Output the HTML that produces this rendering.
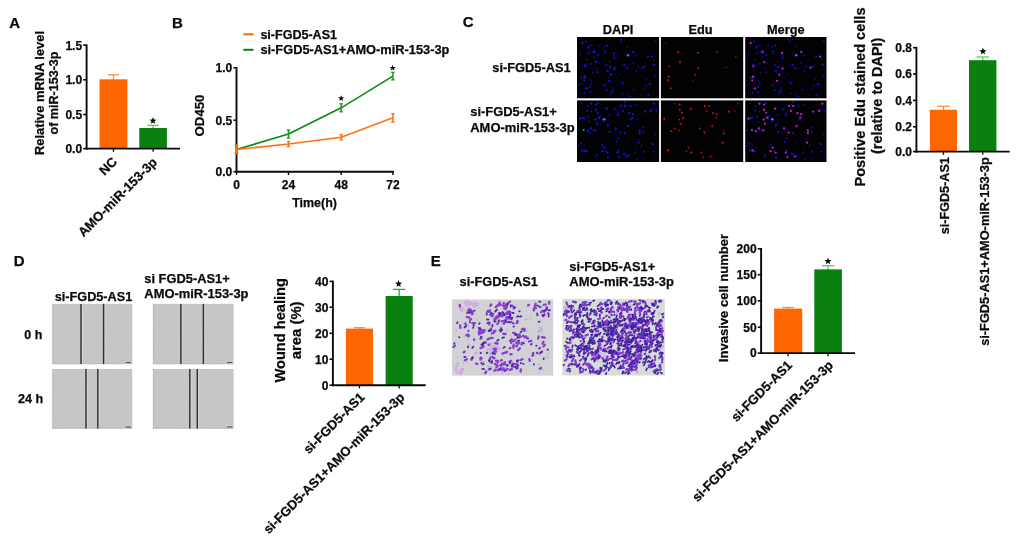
<!DOCTYPE html>
<html><head><meta charset="utf-8"><title>Figure</title>
<style>
html,body{margin:0;padding:0;background:#fff;}
body{width:1020px;height:542px;overflow:hidden;}
svg{display:block;opacity:0.999;filter:blur(0.35px);font-family:"Liberation Sans",sans-serif;font-weight:bold;}
text{stroke:#0a0a0a;stroke-width:0.25px;stroke-linejoin:round;}
</style></head><body>
<svg width="1020" height="542" viewBox="0 0 1020 542">
<rect width="1020" height="542" fill="#ffffff"/>
<text x="9.3" y="27.6" font-size="15" fill="#0a0a0a">A</text>
<text x="172.0" y="27.6" font-size="15" fill="#0a0a0a">B</text>
<text x="462.7" y="27.4" font-size="15" fill="#0a0a0a">C</text>
<text x="13.7" y="265.6" font-size="15" fill="#0a0a0a">D</text>
<text x="430.8" y="265.6" font-size="15" fill="#0a0a0a">E</text>
<line x1="113.45" y1="74.8" x2="113.45" y2="80.3" stroke="#ff8a30" stroke-width="1.25"/>
<line x1="107.95" y1="74.8" x2="118.95" y2="74.8" stroke="#ff8a30" stroke-width="1.25"/>
<rect x="99.50" y="79.30" width="27.90" height="69.30" fill="#ff6600"/>
<line x1="113.45" y1="148.6" x2="113.45" y2="151.79999999999998" stroke="#0a0a0a" stroke-width="1.3"/>
<line x1="153.10000000000002" y1="125.4" x2="153.10000000000002" y2="129.0" stroke="#3fd24a" stroke-width="1.25"/>
<line x1="147.60000000000002" y1="125.4" x2="158.60000000000002" y2="125.4" stroke="#3fd24a" stroke-width="1.25"/>
<rect x="139.30" y="128.00" width="27.60" height="20.60" fill="#0a800e"/>
<line x1="153.10000000000002" y1="148.6" x2="153.10000000000002" y2="151.79999999999998" stroke="#0a0a0a" stroke-width="1.3"/>
<line x1="86.6" y1="44.400000000000006" x2="86.6" y2="149.5" stroke="#0a0a0a" stroke-width="1.9"/>
<line x1="85.69999999999999" y1="148.6" x2="180" y2="148.6" stroke="#0a0a0a" stroke-width="1.9"/>
<line x1="83.19999999999999" y1="45.2" x2="86.6" y2="45.2" stroke="#0a0a0a" stroke-width="1.6"/>
<text x="82.1" y="49.5" font-size="12" text-anchor="end" fill="#0a0a0a">1.5</text>
<line x1="83.19999999999999" y1="79.8" x2="86.6" y2="79.8" stroke="#0a0a0a" stroke-width="1.6"/>
<text x="82.1" y="84.1" font-size="12" text-anchor="end" fill="#0a0a0a">1.0</text>
<line x1="83.19999999999999" y1="114.5" x2="86.6" y2="114.5" stroke="#0a0a0a" stroke-width="1.6"/>
<text x="82.1" y="118.8" font-size="12" text-anchor="end" fill="#0a0a0a">0.5</text>
<line x1="83.19999999999999" y1="148.6" x2="86.6" y2="148.6" stroke="#0a0a0a" stroke-width="1.6"/>
<text x="82.1" y="152.9" font-size="12" text-anchor="end" fill="#0a0a0a">0.0</text>
<polygon points="153.00,117.00 153.94,119.51 156.61,119.63 154.52,121.29 155.23,123.87 153.00,122.40 150.77,123.87 151.48,121.29 149.39,119.63 152.06,119.51" fill="#0a0a0a"/>
<text x="44" y="93.0" font-size="12.7" text-anchor="middle" transform="rotate(-90 44 93.0)" textLength="124" lengthAdjust="spacingAndGlyphs" fill="#0a0a0a">Relative mRNA level</text>
<text x="57.8" y="93.0" font-size="12.7" text-anchor="middle" transform="rotate(-90 57.8 93.0)" textLength="83" lengthAdjust="spacingAndGlyphs" fill="#0a0a0a">of miR-153-3p</text>
<text x="118.0" y="162.6" font-size="13.1" text-anchor="end" transform="rotate(-45 118.0 162.6)" fill="#0a0a0a">NC</text>
<text x="158" y="163" font-size="13.1" text-anchor="end" transform="rotate(-45 158 163)" fill="#0a0a0a">AMO-miR-153-3p</text>
<line x1="243.3" y1="34.3" x2="253.5" y2="34.3" stroke="#ff6600" stroke-width="2"/>
<line x1="243.3" y1="49.8" x2="253.5" y2="49.8" stroke="#0a800e" stroke-width="2"/>
<text x="260.4" y="38.9" font-size="12.5" textLength="76.6" lengthAdjust="spacingAndGlyphs" fill="#0a0a0a">si-FGD5-AS1</text>
<text x="260.4" y="54.4" font-size="12.5" textLength="189" lengthAdjust="spacingAndGlyphs" fill="#0a0a0a">si-FGD5-AS1+AMO-miR-153-3p</text>
<line x1="236.5" y1="67.0" x2="236.5" y2="172.7" stroke="#0a0a0a" stroke-width="1.9"/>
<line x1="235.6" y1="171.8" x2="393.8" y2="171.8" stroke="#0a0a0a" stroke-width="1.9"/>
<line x1="233.3" y1="67.8" x2="236.5" y2="67.8" stroke="#0a0a0a" stroke-width="1.4"/>
<text x="232.2" y="72.1" font-size="12" text-anchor="end" fill="#0a0a0a">1.0</text>
<line x1="233.3" y1="120.2" x2="236.5" y2="120.2" stroke="#0a0a0a" stroke-width="1.4"/>
<text x="232.2" y="124.5" font-size="12" text-anchor="end" fill="#0a0a0a">0.5</text>
<line x1="233.3" y1="171.8" x2="236.5" y2="171.8" stroke="#0a0a0a" stroke-width="1.4"/>
<text x="232.2" y="176.10000000000002" font-size="12" text-anchor="end" fill="#0a0a0a">0.0</text>
<line x1="236.5" y1="171.8" x2="236.5" y2="175" stroke="#0a0a0a" stroke-width="1.4"/>
<text x="236.5" y="188.6" font-size="12" text-anchor="middle" fill="#0a0a0a">0</text>
<line x1="288.5" y1="171.8" x2="288.5" y2="175" stroke="#0a0a0a" stroke-width="1.4"/>
<text x="288.5" y="188.6" font-size="12" text-anchor="middle" fill="#0a0a0a">24</text>
<line x1="341.2" y1="171.8" x2="341.2" y2="175" stroke="#0a0a0a" stroke-width="1.4"/>
<text x="341.2" y="188.6" font-size="12" text-anchor="middle" fill="#0a0a0a">48</text>
<line x1="392.9" y1="171.8" x2="392.9" y2="175" stroke="#0a0a0a" stroke-width="1.4"/>
<text x="392.9" y="188.6" font-size="12" text-anchor="middle" fill="#0a0a0a">72</text>
<polyline points="236.5,149.5 288.5,134 341.2,107.8 392.9,76.1" fill="none" stroke="#088a0c" stroke-width="1.55" stroke-linejoin="round"/>
<line x1="236.5" y1="146.0" x2="236.5" y2="153.0" stroke="#0ea016" stroke-width="1.5"/>
<line x1="234.8" y1="146.0" x2="238.2" y2="146.0" stroke="#0ea016" stroke-width="1.3"/>
<line x1="234.8" y1="153.0" x2="238.2" y2="153.0" stroke="#0ea016" stroke-width="1.3"/>
<line x1="288.5" y1="130" x2="288.5" y2="138" stroke="#0ea016" stroke-width="1.5"/>
<line x1="286.8" y1="130" x2="290.2" y2="130" stroke="#0ea016" stroke-width="1.3"/>
<line x1="286.8" y1="138" x2="290.2" y2="138" stroke="#0ea016" stroke-width="1.3"/>
<line x1="341.2" y1="103.8" x2="341.2" y2="111.8" stroke="#0ea016" stroke-width="1.5"/>
<line x1="339.5" y1="103.8" x2="342.9" y2="103.8" stroke="#0ea016" stroke-width="1.3"/>
<line x1="339.5" y1="111.8" x2="342.9" y2="111.8" stroke="#0ea016" stroke-width="1.3"/>
<line x1="392.9" y1="72.3" x2="392.9" y2="79.89999999999999" stroke="#0ea016" stroke-width="1.5"/>
<line x1="391.2" y1="72.3" x2="394.59999999999997" y2="72.3" stroke="#0ea016" stroke-width="1.3"/>
<line x1="391.2" y1="79.89999999999999" x2="394.59999999999997" y2="79.89999999999999" stroke="#0ea016" stroke-width="1.3"/>
<polyline points="236.5,149.5 288.5,144 341.2,137.2 392.9,117.8" fill="none" stroke="#ff6f10" stroke-width="1.55" stroke-linejoin="round"/>
<line x1="236.5" y1="145.0" x2="236.5" y2="154.0" stroke="#ff6f10" stroke-width="1.5"/>
<line x1="234.8" y1="145.0" x2="238.2" y2="145.0" stroke="#ff6f10" stroke-width="1.3"/>
<line x1="234.8" y1="154.0" x2="238.2" y2="154.0" stroke="#ff6f10" stroke-width="1.3"/>
<line x1="288.5" y1="141.4" x2="288.5" y2="146.6" stroke="#ff6f10" stroke-width="1.5"/>
<line x1="286.8" y1="141.4" x2="290.2" y2="141.4" stroke="#ff6f10" stroke-width="1.3"/>
<line x1="286.8" y1="146.6" x2="290.2" y2="146.6" stroke="#ff6f10" stroke-width="1.3"/>
<line x1="341.2" y1="134.6" x2="341.2" y2="139.79999999999998" stroke="#ff6f10" stroke-width="1.5"/>
<line x1="339.5" y1="134.6" x2="342.9" y2="134.6" stroke="#ff6f10" stroke-width="1.3"/>
<line x1="339.5" y1="139.79999999999998" x2="342.9" y2="139.79999999999998" stroke="#ff6f10" stroke-width="1.3"/>
<line x1="392.9" y1="113.6" x2="392.9" y2="122.0" stroke="#ff6f10" stroke-width="1.5"/>
<line x1="391.2" y1="113.6" x2="394.59999999999997" y2="113.6" stroke="#ff6f10" stroke-width="1.3"/>
<line x1="391.2" y1="122.0" x2="394.59999999999997" y2="122.0" stroke="#ff6f10" stroke-width="1.3"/>
<polygon points="341.20,95.20 341.99,97.31 344.24,97.41 342.48,98.82 343.08,100.99 341.20,99.74 339.32,100.99 339.92,98.82 338.16,97.41 340.41,97.31" fill="#0a0a0a"/>
<polygon points="392.70,64.80 393.49,66.91 395.74,67.01 393.98,68.42 394.58,70.59 392.70,69.34 390.82,70.59 391.42,68.42 389.66,67.01 391.91,66.91" fill="#0a0a0a"/>
<text x="314.6" y="207.2" font-size="12.5" text-anchor="middle" textLength="44.8" lengthAdjust="spacingAndGlyphs" fill="#0a0a0a">Time(h)</text>
<text x="204" y="115.5" font-size="13" text-anchor="middle" transform="rotate(-90 204 115.5)" textLength="42" lengthAdjust="spacingAndGlyphs" fill="#0a0a0a">OD450</text>
<text x="618" y="33.9" font-size="12.5" text-anchor="middle" textLength="30.6" lengthAdjust="spacingAndGlyphs" fill="#0a0a0a">DAPI</text>
<text x="700.5" y="33.9" font-size="12.5" text-anchor="middle" textLength="24" lengthAdjust="spacingAndGlyphs" fill="#0a0a0a">Edu</text>
<text x="785.8" y="33.9" font-size="12.5" text-anchor="middle" textLength="37.7" lengthAdjust="spacingAndGlyphs" fill="#0a0a0a">Merge</text>
<text x="570.6" y="72.3" font-size="13" text-anchor="end" textLength="78.3" lengthAdjust="spacingAndGlyphs" fill="#0a0a0a">si-FGD5-AS1</text>
<text x="470.2" y="116.2" font-size="13" textLength="86.6" lengthAdjust="spacingAndGlyphs" fill="#0a0a0a">si-FGD5-AS1+</text>
<text x="470.2" y="131.9" font-size="13" textLength="104.6" lengthAdjust="spacingAndGlyphs" fill="#0a0a0a">AMO-miR-153-3p</text>
<defs><filter id="bl" x="-5%" y="-5%" width="110%" height="110%"><feGaussianBlur stdDeviation="0.45"/></filter></defs>
<rect x="577.00" y="37.00" width="82.10" height="61.30" fill="#020205"/>
<g fill="#1216e6" filter="url(#bl)"><circle cx="604.1" cy="47.3" r="1.03" fill-opacity="0.53"/><circle cx="620.9" cy="59.8" r="0.73" fill-opacity="0.73"/><circle cx="581.5" cy="63.8" r="0.73" fill-opacity="0.54"/><circle cx="612.1" cy="86.7" r="0.76" fill-opacity="0.60"/><circle cx="628.1" cy="93.8" r="0.99" fill-opacity="0.68"/><circle cx="655.7" cy="41.2" r="1.13" fill-opacity="0.63"/><circle cx="589.9" cy="45.4" r="0.85" fill-opacity="0.87"/><circle cx="592.8" cy="72.4" r="1.02" fill-opacity="0.67"/><circle cx="621.8" cy="42.2" r="0.73" fill-opacity="0.59"/><circle cx="632.3" cy="63.4" r="0.86" fill-opacity="0.76"/><circle cx="614.3" cy="56.0" r="1.10" fill-opacity="0.81"/><circle cx="597.8" cy="72.0" r="0.96" fill-opacity="0.89"/><circle cx="636.2" cy="55.3" r="1.19" fill-opacity="0.55"/><circle cx="611.6" cy="82.6" r="0.78" fill-opacity="0.72"/><circle cx="581.6" cy="77.5" r="1.08" fill-opacity="0.76"/><circle cx="647.8" cy="56.8" r="1.05" fill-opacity="0.77"/><circle cx="624.4" cy="65.1" r="1.12" fill-opacity="0.93"/><circle cx="616.0" cy="77.2" r="0.73" fill-opacity="0.82"/><circle cx="629.7" cy="96.4" r="1.11" fill-opacity="0.63"/><circle cx="609.0" cy="77.5" r="0.71" fill-opacity="0.71"/><circle cx="591.8" cy="45.3" r="0.73" fill-opacity="0.85"/><circle cx="588.7" cy="52.9" r="0.90" fill-opacity="0.89"/><circle cx="584.9" cy="64.7" r="0.97" fill-opacity="0.90"/><circle cx="643.3" cy="88.9" r="0.84" fill-opacity="0.69"/><circle cx="606.9" cy="90.0" r="1.18" fill-opacity="0.57"/><circle cx="592.4" cy="52.0" r="0.82" fill-opacity="0.72"/><circle cx="625.1" cy="53.8" r="0.70" fill-opacity="0.69"/><circle cx="607.7" cy="71.5" r="1.18" fill-opacity="0.81"/><circle cx="619.3" cy="74.5" r="1.04" fill-opacity="0.52"/><circle cx="649.7" cy="84.0" r="1.14" fill-opacity="0.86"/><circle cx="609.5" cy="61.8" r="0.75" fill-opacity="0.79"/><circle cx="583.4" cy="42.4" r="0.80" fill-opacity="0.57"/><circle cx="605.4" cy="41.6" r="0.70" fill-opacity="0.57"/><circle cx="586.5" cy="59.7" r="0.71" fill-opacity="0.89"/><circle cx="627.1" cy="47.2" r="0.83" fill-opacity="0.66"/><circle cx="607.3" cy="45.7" r="1.12" fill-opacity="0.95"/><circle cx="615.4" cy="66.7" r="0.74" fill-opacity="0.55"/><circle cx="605.6" cy="53.9" r="1.11" fill-opacity="0.57"/><circle cx="580.3" cy="93.9" r="0.96" fill-opacity="0.57"/><circle cx="621.5" cy="40.1" r="0.96" fill-opacity="0.94"/><circle cx="646.8" cy="79.1" r="0.83" fill-opacity="0.67"/><circle cx="591.7" cy="83.5" r="0.97" fill-opacity="0.85"/><circle cx="604.6" cy="51.5" r="1.11" fill-opacity="0.94"/><circle cx="645.9" cy="85.5" r="1.11" fill-opacity="0.83"/><circle cx="596.4" cy="68.7" r="0.88" fill-opacity="0.51"/><circle cx="580.7" cy="54.8" r="0.83" fill-opacity="0.81"/><circle cx="654.2" cy="64.6" r="1.17" fill-opacity="0.94"/><circle cx="654.0" cy="59.8" r="0.81" fill-opacity="0.60"/><circle cx="594.1" cy="50.4" r="1.01" fill-opacity="0.91"/><circle cx="645.0" cy="66.5" r="1.03" fill-opacity="0.86"/><circle cx="585.2" cy="77.0" r="1.15" fill-opacity="0.85"/><circle cx="637.8" cy="66.4" r="0.79" fill-opacity="0.86"/><circle cx="604.8" cy="85.2" r="1.19" fill-opacity="0.68"/><circle cx="610.2" cy="93.7" r="1.06" fill-opacity="0.58"/><circle cx="588.5" cy="47.3" r="1.15" fill-opacity="0.86"/><circle cx="590.1" cy="86.7" r="1.19" fill-opacity="0.80"/><circle cx="606.2" cy="70.5" r="0.77" fill-opacity="0.51"/><circle cx="655.3" cy="76.4" r="0.96" fill-opacity="0.92"/><circle cx="612.8" cy="89.3" r="1.11" fill-opacity="0.59"/><circle cx="598.4" cy="55.6" r="0.82" fill-opacity="0.76"/><circle cx="599.0" cy="62.9" r="0.77" fill-opacity="0.91"/><circle cx="606.5" cy="65.2" r="0.99" fill-opacity="0.91"/><circle cx="611.8" cy="92.0" r="0.95" fill-opacity="0.74"/><circle cx="619.9" cy="39.6" r="0.92" fill-opacity="0.58"/><circle cx="578.8" cy="85.1" r="0.79" fill-opacity="0.71"/><circle cx="635.9" cy="70.9" r="0.86" fill-opacity="0.73"/><circle cx="622.4" cy="84.2" r="0.75" fill-opacity="0.75"/><circle cx="598.2" cy="54.6" r="1.09" fill-opacity="0.73"/><circle cx="622.9" cy="82.8" r="1.16" fill-opacity="0.70"/><circle cx="627.0" cy="68.0" r="0.96" fill-opacity="0.81"/><circle cx="614.3" cy="69.6" r="0.94" fill-opacity="0.92"/><circle cx="633.8" cy="89.6" r="1.17" fill-opacity="0.62"/><circle cx="622.8" cy="93.5" r="1.12" fill-opacity="0.56"/><circle cx="588.1" cy="64.3" r="0.74" fill-opacity="0.61"/><circle cx="584.3" cy="77.5" r="1.09" fill-opacity="0.90"/><circle cx="590.7" cy="80.2" r="1.03" fill-opacity="0.56"/><circle cx="648.3" cy="94.9" r="0.81" fill-opacity="0.93"/><circle cx="610.0" cy="66.9" r="1.19" fill-opacity="0.87"/><circle cx="591.3" cy="63.7" r="0.96" fill-opacity="0.65"/><circle cx="594.0" cy="57.1" r="1.06" fill-opacity="0.51"/><circle cx="622.3" cy="64.2" r="0.71" fill-opacity="0.65"/><circle cx="627.9" cy="68.4" r="0.73" fill-opacity="0.94"/><circle cx="640.9" cy="95.1" r="0.75" fill-opacity="0.62"/><circle cx="581.6" cy="83.9" r="0.84" fill-opacity="0.56"/><circle cx="611.9" cy="91.6" r="1.11" fill-opacity="0.62"/><circle cx="590.3" cy="92.1" r="0.99" fill-opacity="0.82"/><circle cx="585.6" cy="41.9" r="1.04" fill-opacity="0.69"/><circle cx="584.2" cy="93.2" r="1.02" fill-opacity="0.86"/><circle cx="585.1" cy="88.4" r="0.73" fill-opacity="0.89"/><circle cx="614.4" cy="58.3" r="0.98" fill-opacity="0.92"/><circle cx="599.7" cy="46.0" r="0.96" fill-opacity="0.61"/><circle cx="587.2" cy="47.9" r="0.73" fill-opacity="0.59"/><circle cx="582.4" cy="43.0" r="1.1"/><circle cx="594.4" cy="52.2" r="1.1"/><circle cx="613.9" cy="53.0" r="1.1"/><circle cx="633.1" cy="52.0" r="1.1"/><circle cx="651.9" cy="56.7" r="1.1"/><circle cx="596.1" cy="62.2" r="1.1"/><circle cx="585.3" cy="66.3" r="1.1"/><circle cx="614.4" cy="68.3" r="1.1"/><circle cx="642.4" cy="67.5" r="1.1"/><circle cx="611.1" cy="74.7" r="1.1"/><circle cx="584.9" cy="76.7" r="1.1"/><circle cx="584.1" cy="80.3" r="1.1"/><circle cx="608.9" cy="80.8" r="1.1"/><circle cx="586.9" cy="88.3" r="1.1"/></g>
<g fill="#3f6cff" filter="url(#bl)"><circle cx="628.0" cy="55.3" r="1.30"/></g>
<rect x="660.90" y="37.00" width="82.30" height="61.30" fill="#020205"/>
<g fill="#cc1410" filter="url(#bl)"><circle cx="666.3" cy="43.0" r="0.85" fill-opacity="0.6"/><circle cx="678.3" cy="52.2" r="1.05" fill-opacity="1.0"/><circle cx="697.8" cy="53.0" r="1.05" fill-opacity="1.0"/><circle cx="717.0" cy="52.0" r="0.85" fill-opacity="1.0"/><circle cx="735.8" cy="56.7" r="1.05" fill-opacity="0.6"/><circle cx="680.0" cy="62.2" r="1.05" fill-opacity="1.0"/><circle cx="669.2" cy="66.3" r="0.85" fill-opacity="1.0"/><circle cx="698.3" cy="68.3" r="1.05" fill-opacity="1.0"/><circle cx="726.3" cy="67.5" r="1.05" fill-opacity="0.6"/><circle cx="695.0" cy="74.7" r="0.85" fill-opacity="1.0"/><circle cx="668.8" cy="76.7" r="1.05" fill-opacity="1.0"/><circle cx="668.0" cy="80.3" r="1.05" fill-opacity="1.0"/><circle cx="692.8" cy="80.8" r="0.85" fill-opacity="0.6"/><circle cx="670.8" cy="88.3" r="1.05" fill-opacity="1.0"/></g>
<rect x="745.20" y="37.00" width="81.30" height="61.30" fill="#020205"/>
<g fill="#1216e6" filter="url(#bl)"><circle cx="772.3" cy="47.3" r="1.03" fill-opacity="0.53"/><circle cx="789.1" cy="59.8" r="0.73" fill-opacity="0.73"/><circle cx="749.7" cy="63.8" r="0.73" fill-opacity="0.54"/><circle cx="780.3" cy="86.7" r="0.76" fill-opacity="0.60"/><circle cx="796.3" cy="93.8" r="0.99" fill-opacity="0.68"/><circle cx="823.9" cy="41.2" r="1.13" fill-opacity="0.63"/><circle cx="758.1" cy="45.4" r="0.85" fill-opacity="0.87"/><circle cx="761.0" cy="72.4" r="1.02" fill-opacity="0.67"/><circle cx="790.0" cy="42.2" r="0.73" fill-opacity="0.59"/><circle cx="800.5" cy="63.4" r="0.86" fill-opacity="0.76"/><circle cx="782.5" cy="56.0" r="1.10" fill-opacity="0.81"/><circle cx="766.0" cy="72.0" r="0.96" fill-opacity="0.89"/><circle cx="804.4" cy="55.3" r="1.19" fill-opacity="0.55"/><circle cx="779.8" cy="82.6" r="0.78" fill-opacity="0.72"/><circle cx="749.8" cy="77.5" r="1.08" fill-opacity="0.76"/><circle cx="816.0" cy="56.8" r="1.05" fill-opacity="0.77"/><circle cx="792.6" cy="65.1" r="1.12" fill-opacity="0.93"/><circle cx="784.2" cy="77.2" r="0.73" fill-opacity="0.82"/><circle cx="797.9" cy="96.4" r="1.11" fill-opacity="0.63"/><circle cx="777.2" cy="77.5" r="0.71" fill-opacity="0.71"/><circle cx="760.0" cy="45.3" r="0.73" fill-opacity="0.85"/><circle cx="756.9" cy="52.9" r="0.90" fill-opacity="0.89"/><circle cx="753.1" cy="64.7" r="0.97" fill-opacity="0.90"/><circle cx="811.5" cy="88.9" r="0.84" fill-opacity="0.69"/><circle cx="775.1" cy="90.0" r="1.18" fill-opacity="0.57"/><circle cx="760.6" cy="52.0" r="0.82" fill-opacity="0.72"/><circle cx="793.3" cy="53.8" r="0.70" fill-opacity="0.69"/><circle cx="775.9" cy="71.5" r="1.18" fill-opacity="0.81"/><circle cx="787.5" cy="74.5" r="1.04" fill-opacity="0.52"/><circle cx="817.9" cy="84.0" r="1.14" fill-opacity="0.86"/><circle cx="777.7" cy="61.8" r="0.75" fill-opacity="0.79"/><circle cx="751.6" cy="42.4" r="0.80" fill-opacity="0.57"/><circle cx="773.6" cy="41.6" r="0.70" fill-opacity="0.57"/><circle cx="754.7" cy="59.7" r="0.71" fill-opacity="0.89"/><circle cx="795.3" cy="47.2" r="0.83" fill-opacity="0.66"/><circle cx="775.5" cy="45.7" r="1.12" fill-opacity="0.95"/><circle cx="783.6" cy="66.7" r="0.74" fill-opacity="0.55"/><circle cx="773.8" cy="53.9" r="1.11" fill-opacity="0.57"/><circle cx="748.5" cy="93.9" r="0.96" fill-opacity="0.57"/><circle cx="789.7" cy="40.1" r="0.96" fill-opacity="0.94"/><circle cx="815.0" cy="79.1" r="0.83" fill-opacity="0.67"/><circle cx="759.9" cy="83.5" r="0.97" fill-opacity="0.85"/><circle cx="772.8" cy="51.5" r="1.11" fill-opacity="0.94"/><circle cx="814.1" cy="85.5" r="1.11" fill-opacity="0.83"/><circle cx="764.6" cy="68.7" r="0.88" fill-opacity="0.51"/><circle cx="748.9" cy="54.8" r="0.83" fill-opacity="0.81"/><circle cx="822.4" cy="64.6" r="1.17" fill-opacity="0.94"/><circle cx="822.2" cy="59.8" r="0.81" fill-opacity="0.60"/><circle cx="762.3" cy="50.4" r="1.01" fill-opacity="0.91"/><circle cx="813.2" cy="66.5" r="1.03" fill-opacity="0.86"/><circle cx="753.4" cy="77.0" r="1.15" fill-opacity="0.85"/><circle cx="806.0" cy="66.4" r="0.79" fill-opacity="0.86"/><circle cx="773.0" cy="85.2" r="1.19" fill-opacity="0.68"/><circle cx="778.4" cy="93.7" r="1.06" fill-opacity="0.58"/><circle cx="756.7" cy="47.3" r="1.15" fill-opacity="0.86"/><circle cx="758.3" cy="86.7" r="1.19" fill-opacity="0.80"/><circle cx="774.4" cy="70.5" r="0.77" fill-opacity="0.51"/><circle cx="823.5" cy="76.4" r="0.96" fill-opacity="0.92"/><circle cx="781.0" cy="89.3" r="1.11" fill-opacity="0.59"/><circle cx="766.6" cy="55.6" r="0.82" fill-opacity="0.76"/><circle cx="767.2" cy="62.9" r="0.77" fill-opacity="0.91"/><circle cx="774.7" cy="65.2" r="0.99" fill-opacity="0.91"/><circle cx="780.0" cy="92.0" r="0.95" fill-opacity="0.74"/><circle cx="788.1" cy="39.6" r="0.92" fill-opacity="0.58"/><circle cx="747.0" cy="85.1" r="0.79" fill-opacity="0.71"/><circle cx="804.1" cy="70.9" r="0.86" fill-opacity="0.73"/><circle cx="790.6" cy="84.2" r="0.75" fill-opacity="0.75"/><circle cx="766.4" cy="54.6" r="1.09" fill-opacity="0.73"/><circle cx="791.1" cy="82.8" r="1.16" fill-opacity="0.70"/><circle cx="795.2" cy="68.0" r="0.96" fill-opacity="0.81"/><circle cx="782.5" cy="69.6" r="0.94" fill-opacity="0.92"/><circle cx="802.0" cy="89.6" r="1.17" fill-opacity="0.62"/><circle cx="791.0" cy="93.5" r="1.12" fill-opacity="0.56"/><circle cx="756.3" cy="64.3" r="0.74" fill-opacity="0.61"/><circle cx="752.5" cy="77.5" r="1.09" fill-opacity="0.90"/><circle cx="758.9" cy="80.2" r="1.03" fill-opacity="0.56"/><circle cx="816.5" cy="94.9" r="0.81" fill-opacity="0.93"/><circle cx="778.2" cy="66.9" r="1.19" fill-opacity="0.87"/><circle cx="759.5" cy="63.7" r="0.96" fill-opacity="0.65"/><circle cx="762.2" cy="57.1" r="1.06" fill-opacity="0.51"/><circle cx="790.5" cy="64.2" r="0.71" fill-opacity="0.65"/><circle cx="796.1" cy="68.4" r="0.73" fill-opacity="0.94"/><circle cx="809.1" cy="95.1" r="0.75" fill-opacity="0.62"/><circle cx="749.8" cy="83.9" r="0.84" fill-opacity="0.56"/><circle cx="780.1" cy="91.6" r="1.11" fill-opacity="0.62"/><circle cx="758.5" cy="92.1" r="0.99" fill-opacity="0.82"/><circle cx="753.8" cy="41.9" r="1.04" fill-opacity="0.69"/><circle cx="752.4" cy="93.2" r="1.02" fill-opacity="0.86"/><circle cx="753.3" cy="88.4" r="0.73" fill-opacity="0.89"/><circle cx="782.6" cy="58.3" r="0.98" fill-opacity="0.92"/><circle cx="767.9" cy="46.0" r="0.96" fill-opacity="0.61"/><circle cx="755.4" cy="47.9" r="0.73" fill-opacity="0.59"/></g>
<g fill="#3f6cff" filter="url(#bl)"><circle cx="796.2" cy="55.3" r="1.30"/></g>
<g fill="#c31cc0" filter="url(#bl)"><circle cx="750.6" cy="43.0" r="1.15"/><circle cx="762.6" cy="52.2" r="1.15"/><circle cx="782.1" cy="53.0" r="1.15"/><circle cx="801.3" cy="52.0" r="1.15"/><circle cx="820.1" cy="56.7" r="1.15"/><circle cx="764.3" cy="62.2" r="1.15"/><circle cx="753.5" cy="66.3" r="1.15"/><circle cx="782.6" cy="68.3" r="1.15"/><circle cx="810.6" cy="67.5" r="1.15"/><circle cx="779.3" cy="74.7" r="1.15"/><circle cx="753.1" cy="76.7" r="1.15"/><circle cx="752.3" cy="80.3" r="1.15"/><circle cx="777.1" cy="80.8" r="1.15"/><circle cx="755.1" cy="88.3" r="1.15"/></g>
<rect x="577.00" y="100.40" width="82.10" height="61.60" fill="#020205"/>
<g fill="#1216e6" filter="url(#bl)"><circle cx="603.2" cy="119.8" r="1.08" fill-opacity="0.63"/><circle cx="618.1" cy="112.3" r="0.87" fill-opacity="0.51"/><circle cx="598.3" cy="102.8" r="1.07" fill-opacity="0.75"/><circle cx="593.5" cy="129.7" r="1.17" fill-opacity="0.55"/><circle cx="643.3" cy="127.2" r="0.95" fill-opacity="0.88"/><circle cx="609.6" cy="131.6" r="1.04" fill-opacity="0.94"/><circle cx="605.6" cy="150.7" r="1.05" fill-opacity="0.79"/><circle cx="610.5" cy="122.3" r="0.73" fill-opacity="0.56"/><circle cx="584.1" cy="145.3" r="0.83" fill-opacity="0.57"/><circle cx="585.2" cy="151.2" r="1.14" fill-opacity="0.80"/><circle cx="600.8" cy="116.1" r="0.85" fill-opacity="0.71"/><circle cx="591.0" cy="128.0" r="0.83" fill-opacity="0.93"/><circle cx="655.4" cy="134.0" r="0.82" fill-opacity="0.93"/><circle cx="603.0" cy="122.8" r="0.70" fill-opacity="0.67"/><circle cx="616.0" cy="131.4" r="0.80" fill-opacity="0.73"/><circle cx="578.9" cy="117.4" r="0.74" fill-opacity="0.68"/><circle cx="581.8" cy="103.2" r="0.85" fill-opacity="0.60"/><circle cx="624.8" cy="132.9" r="1.08" fill-opacity="0.80"/><circle cx="635.1" cy="153.4" r="0.89" fill-opacity="0.65"/><circle cx="656.4" cy="110.7" r="1.06" fill-opacity="0.79"/><circle cx="582.0" cy="150.8" r="1.15" fill-opacity="0.78"/><circle cx="636.5" cy="149.5" r="0.77" fill-opacity="0.74"/><circle cx="618.4" cy="150.8" r="1.10" fill-opacity="0.87"/><circle cx="624.7" cy="154.2" r="1.04" fill-opacity="0.81"/><circle cx="596.7" cy="103.7" r="0.77" fill-opacity="0.66"/><circle cx="586.8" cy="150.9" r="0.98" fill-opacity="0.78"/><circle cx="628.0" cy="141.8" r="0.94" fill-opacity="0.50"/><circle cx="641.6" cy="145.7" r="0.95" fill-opacity="0.74"/><circle cx="630.7" cy="105.8" r="1.07" fill-opacity="0.61"/><circle cx="584.4" cy="117.5" r="1.06" fill-opacity="0.59"/><circle cx="637.0" cy="159.1" r="0.95" fill-opacity="0.67"/><circle cx="616.4" cy="142.0" r="1.08" fill-opacity="0.78"/><circle cx="629.3" cy="106.4" r="0.77" fill-opacity="0.61"/><circle cx="637.3" cy="119.7" r="0.98" fill-opacity="0.51"/><circle cx="583.3" cy="117.7" r="1.04" fill-opacity="0.81"/><circle cx="631.9" cy="118.9" r="0.96" fill-opacity="0.71"/><circle cx="615.4" cy="108.8" r="1.15" fill-opacity="0.59"/><circle cx="655.9" cy="156.8" r="0.71" fill-opacity="0.71"/><circle cx="643.4" cy="158.6" r="0.92" fill-opacity="0.62"/><circle cx="595.1" cy="157.3" r="0.81" fill-opacity="0.76"/><circle cx="589.7" cy="132.6" r="1.18" fill-opacity="0.56"/><circle cx="643.4" cy="131.7" r="1.14" fill-opacity="0.82"/><circle cx="596.8" cy="154.5" r="0.94" fill-opacity="0.51"/><circle cx="578.8" cy="130.7" r="0.93" fill-opacity="0.64"/><circle cx="589.6" cy="122.1" r="0.86" fill-opacity="0.88"/><circle cx="578.6" cy="145.9" r="1.12" fill-opacity="0.55"/><circle cx="651.8" cy="143.7" r="1.15" fill-opacity="0.63"/><circle cx="607.9" cy="124.9" r="1.20" fill-opacity="0.77"/><circle cx="607.0" cy="127.0" r="0.84" fill-opacity="0.52"/><circle cx="586.5" cy="150.8" r="0.84" fill-opacity="0.92"/><circle cx="598.2" cy="117.5" r="0.96" fill-opacity="0.59"/><circle cx="608.0" cy="157.9" r="1.14" fill-opacity="0.87"/><circle cx="628.4" cy="155.4" r="1.17" fill-opacity="0.75"/><circle cx="635.4" cy="104.8" r="1.07" fill-opacity="0.70"/><circle cx="638.0" cy="139.7" r="0.84" fill-opacity="0.52"/><circle cx="651.8" cy="109.4" r="0.94" fill-opacity="0.65"/><circle cx="602.1" cy="145.2" r="1.19" fill-opacity="0.62"/><circle cx="630.4" cy="119.5" r="0.98" fill-opacity="0.68"/><circle cx="591.7" cy="111.4" r="0.80" fill-opacity="0.91"/><circle cx="617.8" cy="114.8" r="1.15" fill-opacity="0.95"/><circle cx="614.1" cy="110.1" r="0.80" fill-opacity="0.54"/><circle cx="605.5" cy="107.2" r="0.82" fill-opacity="0.62"/><circle cx="623.6" cy="153.9" r="1.07" fill-opacity="0.69"/><circle cx="611.2" cy="132.6" r="0.89" fill-opacity="0.65"/><circle cx="583.4" cy="118.2" r="1.18" fill-opacity="0.56"/><circle cx="618.3" cy="138.8" r="1.13" fill-opacity="0.60"/><circle cx="599.9" cy="116.5" r="0.90" fill-opacity="0.70"/><circle cx="654.0" cy="151.6" r="1.14" fill-opacity="0.51"/><circle cx="581.1" cy="143.5" r="1.15" fill-opacity="0.71"/><circle cx="624.9" cy="101.9" r="0.90" fill-opacity="0.92"/><circle cx="643.8" cy="152.0" r="1.19" fill-opacity="0.61"/><circle cx="587.1" cy="110.9" r="0.96" fill-opacity="0.81"/><circle cx="653.0" cy="144.2" r="1.02" fill-opacity="0.84"/><circle cx="614.7" cy="134.2" r="0.72" fill-opacity="0.85"/><circle cx="596.9" cy="155.8" r="1.02" fill-opacity="0.64"/><circle cx="588.6" cy="116.7" r="1.02" fill-opacity="0.81"/><circle cx="587.4" cy="106.0" r="0.96" fill-opacity="0.76"/><circle cx="609.2" cy="115.0" r="1.00" fill-opacity="0.50"/><circle cx="591.3" cy="103.7" r="1.1"/><circle cx="595.8" cy="104.6" r="1.1"/><circle cx="620.8" cy="105.9" r="1.1"/><circle cx="625.0" cy="105.9" r="1.1"/><circle cx="654.2" cy="103.7" r="1.1"/><circle cx="607.0" cy="108.7" r="1.1"/><circle cx="595.8" cy="109.9" r="1.1"/><circle cx="598.0" cy="112.6" r="1.1"/><circle cx="622.8" cy="110.9" r="1.1"/><circle cx="633.0" cy="114.2" r="1.1"/><circle cx="629.2" cy="113.2" r="1.1"/><circle cx="645.0" cy="111.6" r="1.1"/><circle cx="650.8" cy="110.9" r="1.1"/><circle cx="580.3" cy="118.7" r="1.1"/><circle cx="599.2" cy="117.9" r="1.1"/><circle cx="595.5" cy="119.6" r="1.1"/><circle cx="632.2" cy="117.6" r="1.1"/><circle cx="596.7" cy="123.7" r="1.1"/><circle cx="590.8" cy="128.4" r="1.1"/><circle cx="587.5" cy="131.2" r="1.1"/><circle cx="595.3" cy="130.4" r="1.1"/><circle cx="615.8" cy="128.4" r="1.1"/><circle cx="620.5" cy="132.6" r="1.1"/><circle cx="628.3" cy="126.2" r="1.1"/><circle cx="639.7" cy="130.4" r="1.1"/><circle cx="639.7" cy="133.2" r="1.1"/><circle cx="638.8" cy="142.6" r="1.1"/><circle cx="604.5" cy="147.6" r="1.1"/><circle cx="602.5" cy="151.2" r="1.1"/><circle cx="607.5" cy="152.6" r="1.1"/><circle cx="617.5" cy="152.6" r="1.1"/><circle cx="584.2" cy="150.4" r="1.1"/><circle cx="619.2" cy="157.1" r="1.1"/><circle cx="626.7" cy="156.6" r="1.1"/></g>
<g fill="#3f6cff" filter="url(#bl)"><circle cx="604.2" cy="119.3" r="1.40"/><circle cx="583.7" cy="130.0" r="1.10"/></g>
<rect x="660.90" y="100.40" width="82.30" height="61.60" fill="#020205"/>
<g fill="#cc1410" filter="url(#bl)"><circle cx="675.2" cy="103.7" r="0.85" fill-opacity="0.6"/><circle cx="679.7" cy="104.6" r="1.05" fill-opacity="1.0"/><circle cx="704.7" cy="105.9" r="1.05" fill-opacity="1.0"/><circle cx="708.9" cy="105.9" r="0.85" fill-opacity="1.0"/><circle cx="738.1" cy="103.7" r="1.05" fill-opacity="0.6"/><circle cx="690.9" cy="108.7" r="1.05" fill-opacity="1.0"/><circle cx="679.7" cy="109.9" r="0.85" fill-opacity="1.0"/><circle cx="681.9" cy="112.6" r="1.05" fill-opacity="1.0"/><circle cx="706.7" cy="110.9" r="1.05" fill-opacity="0.6"/><circle cx="716.9" cy="114.2" r="0.85" fill-opacity="1.0"/><circle cx="713.1" cy="113.2" r="1.05" fill-opacity="1.0"/><circle cx="728.9" cy="111.6" r="1.05" fill-opacity="1.0"/><circle cx="734.7" cy="110.9" r="0.85" fill-opacity="0.6"/><circle cx="664.2" cy="118.7" r="1.05" fill-opacity="1.0"/><circle cx="683.1" cy="117.9" r="1.05" fill-opacity="1.0"/><circle cx="679.4" cy="119.6" r="0.85" fill-opacity="1.0"/><circle cx="716.1" cy="117.6" r="1.05" fill-opacity="0.6"/><circle cx="680.6" cy="123.7" r="1.05" fill-opacity="1.0"/><circle cx="674.7" cy="128.4" r="0.85" fill-opacity="1.0"/><circle cx="671.4" cy="131.2" r="1.05" fill-opacity="1.0"/><circle cx="679.2" cy="130.4" r="1.05" fill-opacity="0.6"/><circle cx="699.7" cy="128.4" r="0.85" fill-opacity="1.0"/><circle cx="704.4" cy="132.6" r="1.05" fill-opacity="1.0"/><circle cx="712.2" cy="126.2" r="1.05" fill-opacity="1.0"/><circle cx="723.6" cy="130.4" r="0.85" fill-opacity="0.6"/><circle cx="723.6" cy="133.2" r="1.05" fill-opacity="1.0"/><circle cx="722.7" cy="142.6" r="1.05" fill-opacity="1.0"/><circle cx="688.4" cy="147.6" r="0.85" fill-opacity="1.0"/><circle cx="686.4" cy="151.2" r="1.05" fill-opacity="0.6"/><circle cx="691.4" cy="152.6" r="1.05" fill-opacity="1.0"/><circle cx="701.4" cy="152.6" r="0.85" fill-opacity="1.0"/><circle cx="668.1" cy="150.4" r="1.05" fill-opacity="1.0"/><circle cx="703.1" cy="157.1" r="1.05" fill-opacity="0.6"/><circle cx="710.6" cy="156.6" r="0.85" fill-opacity="1.0"/></g>
<rect x="745.20" y="100.40" width="81.30" height="61.60" fill="#020205"/>
<g fill="#1216e6" filter="url(#bl)"><circle cx="771.4" cy="119.8" r="1.08" fill-opacity="0.63"/><circle cx="786.3" cy="112.3" r="0.87" fill-opacity="0.51"/><circle cx="766.5" cy="102.8" r="1.07" fill-opacity="0.75"/><circle cx="761.7" cy="129.7" r="1.17" fill-opacity="0.55"/><circle cx="811.5" cy="127.2" r="0.95" fill-opacity="0.88"/><circle cx="777.8" cy="131.6" r="1.04" fill-opacity="0.94"/><circle cx="773.8" cy="150.7" r="1.05" fill-opacity="0.79"/><circle cx="778.7" cy="122.3" r="0.73" fill-opacity="0.56"/><circle cx="752.3" cy="145.3" r="0.83" fill-opacity="0.57"/><circle cx="753.4" cy="151.2" r="1.14" fill-opacity="0.80"/><circle cx="769.0" cy="116.1" r="0.85" fill-opacity="0.71"/><circle cx="759.2" cy="128.0" r="0.83" fill-opacity="0.93"/><circle cx="823.6" cy="134.0" r="0.82" fill-opacity="0.93"/><circle cx="771.2" cy="122.8" r="0.70" fill-opacity="0.67"/><circle cx="784.2" cy="131.4" r="0.80" fill-opacity="0.73"/><circle cx="747.1" cy="117.4" r="0.74" fill-opacity="0.68"/><circle cx="750.0" cy="103.2" r="0.85" fill-opacity="0.60"/><circle cx="793.0" cy="132.9" r="1.08" fill-opacity="0.80"/><circle cx="803.3" cy="153.4" r="0.89" fill-opacity="0.65"/><circle cx="824.6" cy="110.7" r="1.06" fill-opacity="0.79"/><circle cx="750.2" cy="150.8" r="1.15" fill-opacity="0.78"/><circle cx="804.7" cy="149.5" r="0.77" fill-opacity="0.74"/><circle cx="786.6" cy="150.8" r="1.10" fill-opacity="0.87"/><circle cx="792.9" cy="154.2" r="1.04" fill-opacity="0.81"/><circle cx="764.9" cy="103.7" r="0.77" fill-opacity="0.66"/><circle cx="755.0" cy="150.9" r="0.98" fill-opacity="0.78"/><circle cx="796.2" cy="141.8" r="0.94" fill-opacity="0.50"/><circle cx="809.8" cy="145.7" r="0.95" fill-opacity="0.74"/><circle cx="798.9" cy="105.8" r="1.07" fill-opacity="0.61"/><circle cx="752.6" cy="117.5" r="1.06" fill-opacity="0.59"/><circle cx="805.2" cy="159.1" r="0.95" fill-opacity="0.67"/><circle cx="784.6" cy="142.0" r="1.08" fill-opacity="0.78"/><circle cx="797.5" cy="106.4" r="0.77" fill-opacity="0.61"/><circle cx="805.5" cy="119.7" r="0.98" fill-opacity="0.51"/><circle cx="751.5" cy="117.7" r="1.04" fill-opacity="0.81"/><circle cx="800.1" cy="118.9" r="0.96" fill-opacity="0.71"/><circle cx="783.6" cy="108.8" r="1.15" fill-opacity="0.59"/><circle cx="824.1" cy="156.8" r="0.71" fill-opacity="0.71"/><circle cx="811.6" cy="158.6" r="0.92" fill-opacity="0.62"/><circle cx="763.3" cy="157.3" r="0.81" fill-opacity="0.76"/><circle cx="757.9" cy="132.6" r="1.18" fill-opacity="0.56"/><circle cx="811.6" cy="131.7" r="1.14" fill-opacity="0.82"/><circle cx="765.0" cy="154.5" r="0.94" fill-opacity="0.51"/><circle cx="747.0" cy="130.7" r="0.93" fill-opacity="0.64"/><circle cx="757.8" cy="122.1" r="0.86" fill-opacity="0.88"/><circle cx="746.8" cy="145.9" r="1.12" fill-opacity="0.55"/><circle cx="820.0" cy="143.7" r="1.15" fill-opacity="0.63"/><circle cx="776.1" cy="124.9" r="1.20" fill-opacity="0.77"/><circle cx="775.2" cy="127.0" r="0.84" fill-opacity="0.52"/><circle cx="754.7" cy="150.8" r="0.84" fill-opacity="0.92"/><circle cx="766.4" cy="117.5" r="0.96" fill-opacity="0.59"/><circle cx="776.2" cy="157.9" r="1.14" fill-opacity="0.87"/><circle cx="796.6" cy="155.4" r="1.17" fill-opacity="0.75"/><circle cx="803.6" cy="104.8" r="1.07" fill-opacity="0.70"/><circle cx="806.2" cy="139.7" r="0.84" fill-opacity="0.52"/><circle cx="820.0" cy="109.4" r="0.94" fill-opacity="0.65"/><circle cx="770.3" cy="145.2" r="1.19" fill-opacity="0.62"/><circle cx="798.6" cy="119.5" r="0.98" fill-opacity="0.68"/><circle cx="759.9" cy="111.4" r="0.80" fill-opacity="0.91"/><circle cx="786.0" cy="114.8" r="1.15" fill-opacity="0.95"/><circle cx="782.3" cy="110.1" r="0.80" fill-opacity="0.54"/><circle cx="773.7" cy="107.2" r="0.82" fill-opacity="0.62"/><circle cx="791.8" cy="153.9" r="1.07" fill-opacity="0.69"/><circle cx="779.4" cy="132.6" r="0.89" fill-opacity="0.65"/><circle cx="751.6" cy="118.2" r="1.18" fill-opacity="0.56"/><circle cx="786.5" cy="138.8" r="1.13" fill-opacity="0.60"/><circle cx="768.1" cy="116.5" r="0.90" fill-opacity="0.70"/><circle cx="822.2" cy="151.6" r="1.14" fill-opacity="0.51"/><circle cx="749.3" cy="143.5" r="1.15" fill-opacity="0.71"/><circle cx="793.1" cy="101.9" r="0.90" fill-opacity="0.92"/><circle cx="812.0" cy="152.0" r="1.19" fill-opacity="0.61"/><circle cx="755.3" cy="110.9" r="0.96" fill-opacity="0.81"/><circle cx="821.2" cy="144.2" r="1.02" fill-opacity="0.84"/><circle cx="782.9" cy="134.2" r="0.72" fill-opacity="0.85"/><circle cx="765.1" cy="155.8" r="1.02" fill-opacity="0.64"/><circle cx="756.8" cy="116.7" r="1.02" fill-opacity="0.81"/><circle cx="755.6" cy="106.0" r="0.96" fill-opacity="0.76"/><circle cx="777.4" cy="115.0" r="1.00" fill-opacity="0.50"/></g>
<g fill="#3f6cff" filter="url(#bl)"><circle cx="772.4" cy="119.3" r="1.40"/><circle cx="751.9" cy="130.0" r="1.10"/></g>
<g fill="#c31cc0" filter="url(#bl)"><circle cx="759.5" cy="103.7" r="1.15"/><circle cx="764.0" cy="104.6" r="1.15"/><circle cx="789.0" cy="105.9" r="1.15"/><circle cx="793.2" cy="105.9" r="1.15"/><circle cx="822.4" cy="103.7" r="1.15"/><circle cx="775.2" cy="108.7" r="1.15"/><circle cx="764.0" cy="109.9" r="1.15"/><circle cx="766.2" cy="112.6" r="1.15"/><circle cx="791.0" cy="110.9" r="1.15"/><circle cx="801.2" cy="114.2" r="1.15"/><circle cx="797.4" cy="113.2" r="1.15"/><circle cx="813.2" cy="111.6" r="1.15"/><circle cx="819.0" cy="110.9" r="1.15"/><circle cx="748.5" cy="118.7" r="1.15"/><circle cx="767.4" cy="117.9" r="1.15"/><circle cx="763.7" cy="119.6" r="1.15"/><circle cx="800.4" cy="117.6" r="1.15"/><circle cx="764.9" cy="123.7" r="1.15"/><circle cx="759.0" cy="128.4" r="1.15"/><circle cx="755.7" cy="131.2" r="1.15"/><circle cx="763.5" cy="130.4" r="1.15"/><circle cx="784.0" cy="128.4" r="1.15"/><circle cx="788.7" cy="132.6" r="1.15"/><circle cx="796.5" cy="126.2" r="1.15"/><circle cx="807.9" cy="130.4" r="1.15"/><circle cx="807.9" cy="133.2" r="1.15"/><circle cx="807.0" cy="142.6" r="1.15"/><circle cx="772.7" cy="147.6" r="1.15"/><circle cx="770.7" cy="151.2" r="1.15"/><circle cx="775.7" cy="152.6" r="1.15"/><circle cx="785.7" cy="152.6" r="1.15"/><circle cx="752.4" cy="150.4" r="1.15"/><circle cx="787.4" cy="157.1" r="1.15"/><circle cx="794.9" cy="156.6" r="1.15"/></g>
<line x1="943.45" y1="106.2" x2="943.45" y2="110.7" stroke="#ff8a30" stroke-width="1.25"/>
<line x1="937.2" y1="106.2" x2="949.7" y2="106.2" stroke="#ff8a30" stroke-width="1.25"/>
<rect x="929.90" y="109.70" width="27.10" height="41.90" fill="#ff6600"/>
<line x1="943.45" y1="151.6" x2="943.45" y2="154.79999999999998" stroke="#0a0a0a" stroke-width="1.3"/>
<line x1="982.7" y1="57" x2="982.7" y2="61.2" stroke="#3fd24a" stroke-width="1.25"/>
<line x1="976.45" y1="57" x2="988.95" y2="57" stroke="#3fd24a" stroke-width="1.25"/>
<rect x="969.00" y="60.20" width="27.40" height="91.40" fill="#0a800e"/>
<line x1="982.7" y1="151.6" x2="982.7" y2="154.79999999999998" stroke="#0a0a0a" stroke-width="1.3"/>
<line x1="916.4" y1="46.900000000000006" x2="916.4" y2="152.5" stroke="#0a0a0a" stroke-width="1.9"/>
<line x1="915.5" y1="151.6" x2="1009.7" y2="151.6" stroke="#0a0a0a" stroke-width="1.9"/>
<line x1="913.0" y1="47.7" x2="916.4" y2="47.7" stroke="#0a0a0a" stroke-width="1.6"/>
<text x="911.9" y="52.0" font-size="12" text-anchor="end" fill="#0a0a0a">0.8</text>
<line x1="913.0" y1="74" x2="916.4" y2="74" stroke="#0a0a0a" stroke-width="1.6"/>
<text x="911.9" y="78.3" font-size="12" text-anchor="end" fill="#0a0a0a">0.6</text>
<line x1="913.0" y1="100.4" x2="916.4" y2="100.4" stroke="#0a0a0a" stroke-width="1.6"/>
<text x="911.9" y="104.7" font-size="12" text-anchor="end" fill="#0a0a0a">0.4</text>
<line x1="913.0" y1="126.8" x2="916.4" y2="126.8" stroke="#0a0a0a" stroke-width="1.6"/>
<text x="911.9" y="131.1" font-size="12" text-anchor="end" fill="#0a0a0a">0.2</text>
<line x1="913.0" y1="151.6" x2="916.4" y2="151.6" stroke="#0a0a0a" stroke-width="1.6"/>
<text x="911.9" y="155.9" font-size="12" text-anchor="end" fill="#0a0a0a">0.0</text>
<polygon points="982.90,47.60 983.84,50.11 986.51,50.23 984.42,51.89 985.13,54.47 982.90,53.00 980.67,54.47 981.38,51.89 979.29,50.23 981.96,50.11" fill="#0a0a0a"/>
<text x="865" y="97" font-size="14.5" text-anchor="middle" transform="rotate(-90 865 97)" textLength="179" lengthAdjust="spacingAndGlyphs" fill="#0a0a0a">Positive Edu stained cells</text>
<text x="882" y="95.8" font-size="14.5" text-anchor="middle" transform="rotate(-90 882 95.8)" textLength="116.4" lengthAdjust="spacingAndGlyphs" fill="#0a0a0a">(relative to DAPI)</text>
<text x="949.2" y="157.2" font-size="12.8" text-anchor="end" transform="rotate(-90 949.2 157.2)" textLength="77" lengthAdjust="spacingAndGlyphs" fill="#0a0a0a">si-FGD5-AS1</text>
<text x="988.7" y="157.2" font-size="12.8" text-anchor="end" transform="rotate(-90 988.7 157.2)" textLength="188.6" lengthAdjust="spacingAndGlyphs" fill="#0a0a0a">si-FGD5-AS1+AMO-miR-153-3p</text>
<text x="54.7" y="301.0" font-size="12.8" textLength="77.6" lengthAdjust="spacingAndGlyphs" fill="#0a0a0a">si-FGD5-AS1</text>
<text x="144.3" y="282.8" font-size="12.8" textLength="85.4" lengthAdjust="spacingAndGlyphs" fill="#0a0a0a">si FGD5-AS1+</text>
<text x="144.3" y="298.2" font-size="12.8" textLength="104.2" lengthAdjust="spacingAndGlyphs" fill="#0a0a0a">AMO-miR-153-3p</text>
<text x="24.3" y="339" font-size="12.5" textLength="18" lengthAdjust="spacingAndGlyphs" fill="#0a0a0a">0 h</text>
<text x="18" y="403.4" font-size="12.5" textLength="25.2" lengthAdjust="spacingAndGlyphs" fill="#0a0a0a">24 h</text>
<defs><filter id="nz" x="0" y="0" width="100%" height="100%"><feTurbulence type="fractalNoise" baseFrequency="0.7" numOctaves="2" seed="4"/><feColorMatrix type="matrix" values="0 0 0 0 0.35  0 0 0 0 0.35  0 0 0 0 0.35  0.55 0 0 0 -0.2"/></filter></defs>
<rect x="52.50" y="303.90" width="79.70" height="60.20" fill="#c8c8c8"/>
<rect x="52.50" y="303.90" width="79.70" height="60.20" fill="#000" filter="url(#nz)" opacity="0.5"/>
<line x1="52.9" y1="303.9" x2="52.9" y2="364.1" stroke="#b4b4b4" stroke-width="0.8"/>
<line x1="52.5" y1="363.70000000000005" x2="132.2" y2="363.70000000000005" stroke="#b8b8b8" stroke-width="0.8"/>
<line x1="82.3" y1="303.9" x2="82.3" y2="364.1" stroke="#d6d6d6" stroke-width="0.9"/>
<line x1="81.0" y1="303.9" x2="81.0" y2="364.1" stroke="#2c2c2c" stroke-width="1.4"/>
<line x1="104.89999999999999" y1="303.9" x2="104.89999999999999" y2="364.1" stroke="#d6d6d6" stroke-width="0.9"/>
<line x1="103.6" y1="303.9" x2="103.6" y2="364.1" stroke="#2c2c2c" stroke-width="1.4"/>
<line x1="125.99999999999999" y1="361.5" x2="130.6" y2="361.5" stroke="#e2e2e2" stroke-width="0.9"/>
<line x1="125.79999999999998" y1="362.40000000000003" x2="130.79999999999998" y2="362.40000000000003" stroke="#4a4a4a" stroke-width="1.1"/>
<rect x="153.00" y="303.90" width="80.60" height="60.20" fill="#c8c8c8"/>
<rect x="153.00" y="303.90" width="80.60" height="60.20" fill="#000" filter="url(#nz)" opacity="0.5"/>
<line x1="153.4" y1="303.9" x2="153.4" y2="364.1" stroke="#b4b4b4" stroke-width="0.8"/>
<line x1="153.0" y1="363.70000000000005" x2="233.6" y2="363.70000000000005" stroke="#b8b8b8" stroke-width="0.8"/>
<line x1="182.20000000000002" y1="303.9" x2="182.20000000000002" y2="364.1" stroke="#d6d6d6" stroke-width="0.9"/>
<line x1="180.9" y1="303.9" x2="180.9" y2="364.1" stroke="#2c2c2c" stroke-width="1.4"/>
<line x1="204.70000000000002" y1="303.9" x2="204.70000000000002" y2="364.1" stroke="#d6d6d6" stroke-width="0.9"/>
<line x1="203.4" y1="303.9" x2="203.4" y2="364.1" stroke="#2c2c2c" stroke-width="1.4"/>
<line x1="227.4" y1="361.5" x2="232.0" y2="361.5" stroke="#e2e2e2" stroke-width="0.9"/>
<line x1="227.2" y1="362.40000000000003" x2="232.2" y2="362.40000000000003" stroke="#4a4a4a" stroke-width="1.1"/>
<rect x="52.50" y="369.00" width="79.70" height="59.60" fill="#c8c8c8"/>
<rect x="52.50" y="369.00" width="79.70" height="59.60" fill="#000" filter="url(#nz)" opacity="0.5"/>
<line x1="52.9" y1="369.0" x2="52.9" y2="428.6" stroke="#b4b4b4" stroke-width="0.8"/>
<line x1="52.5" y1="428.20000000000005" x2="132.2" y2="428.20000000000005" stroke="#b8b8b8" stroke-width="0.8"/>
<line x1="87.3" y1="369.0" x2="87.3" y2="428.6" stroke="#d6d6d6" stroke-width="0.9"/>
<line x1="86.0" y1="369.0" x2="86.0" y2="428.6" stroke="#2c2c2c" stroke-width="1.4"/>
<line x1="99.1" y1="369.0" x2="99.1" y2="428.6" stroke="#d6d6d6" stroke-width="0.9"/>
<line x1="97.8" y1="369.0" x2="97.8" y2="428.6" stroke="#2c2c2c" stroke-width="1.4"/>
<line x1="125.99999999999999" y1="426.0" x2="130.6" y2="426.0" stroke="#e2e2e2" stroke-width="0.9"/>
<line x1="125.79999999999998" y1="426.90000000000003" x2="130.79999999999998" y2="426.90000000000003" stroke="#4a4a4a" stroke-width="1.1"/>
<rect x="153.00" y="369.00" width="80.60" height="59.60" fill="#c8c8c8"/>
<rect x="153.00" y="369.00" width="80.60" height="59.60" fill="#000" filter="url(#nz)" opacity="0.5"/>
<line x1="153.4" y1="369.0" x2="153.4" y2="428.6" stroke="#b4b4b4" stroke-width="0.8"/>
<line x1="153.0" y1="428.20000000000005" x2="233.6" y2="428.20000000000005" stroke="#b8b8b8" stroke-width="0.8"/>
<line x1="191.10000000000002" y1="369.0" x2="191.10000000000002" y2="428.6" stroke="#d6d6d6" stroke-width="0.9"/>
<line x1="189.8" y1="369.0" x2="189.8" y2="428.6" stroke="#2c2c2c" stroke-width="1.4"/>
<line x1="198.60000000000002" y1="369.0" x2="198.60000000000002" y2="428.6" stroke="#d6d6d6" stroke-width="0.9"/>
<line x1="197.3" y1="369.0" x2="197.3" y2="428.6" stroke="#2c2c2c" stroke-width="1.4"/>
<line x1="227.4" y1="426.0" x2="232.0" y2="426.0" stroke="#e2e2e2" stroke-width="0.9"/>
<line x1="227.2" y1="426.90000000000003" x2="232.2" y2="426.90000000000003" stroke="#4a4a4a" stroke-width="1.1"/>
<line x1="359.45" y1="327.7" x2="359.45" y2="329.6" stroke="#ff8a30" stroke-width="1.25"/>
<line x1="353.7" y1="327.7" x2="365.2" y2="327.7" stroke="#ff8a30" stroke-width="1.25"/>
<rect x="345.90" y="328.60" width="27.10" height="56.60" fill="#ff6600"/>
<line x1="359.45" y1="385.2" x2="359.45" y2="388.4" stroke="#0a0a0a" stroke-width="1.3"/>
<line x1="399.15" y1="289.4" x2="399.15" y2="297" stroke="#22a82a" stroke-width="1.25"/>
<line x1="392.84999999999997" y1="289.4" x2="405.45" y2="289.4" stroke="#22a82a" stroke-width="1.25"/>
<rect x="385.60" y="296.00" width="27.10" height="89.20" fill="#0a800e"/>
<line x1="399.15" y1="385.2" x2="399.15" y2="388.4" stroke="#0a0a0a" stroke-width="1.3"/>
<line x1="332.9" y1="280.59999999999997" x2="332.9" y2="386.09999999999997" stroke="#0a0a0a" stroke-width="1.9"/>
<line x1="332.0" y1="385.2" x2="425.7" y2="385.2" stroke="#0a0a0a" stroke-width="1.9"/>
<line x1="329.5" y1="281.4" x2="332.9" y2="281.4" stroke="#0a0a0a" stroke-width="1.6"/>
<text x="328.4" y="285.7" font-size="12" text-anchor="end" fill="#0a0a0a">40</text>
<line x1="329.5" y1="307.2" x2="332.9" y2="307.2" stroke="#0a0a0a" stroke-width="1.6"/>
<text x="328.4" y="311.5" font-size="12" text-anchor="end" fill="#0a0a0a">30</text>
<line x1="329.5" y1="333.3" x2="332.9" y2="333.3" stroke="#0a0a0a" stroke-width="1.6"/>
<text x="328.4" y="337.6" font-size="12" text-anchor="end" fill="#0a0a0a">20</text>
<line x1="329.5" y1="359.2" x2="332.9" y2="359.2" stroke="#0a0a0a" stroke-width="1.6"/>
<text x="328.4" y="363.5" font-size="12" text-anchor="end" fill="#0a0a0a">10</text>
<line x1="329.5" y1="385.2" x2="332.9" y2="385.2" stroke="#0a0a0a" stroke-width="1.6"/>
<text x="328.4" y="389.5" font-size="12" text-anchor="end" fill="#0a0a0a">0</text>
<polygon points="398.60,280.00 399.54,282.51 402.21,282.63 400.12,284.29 400.83,286.87 398.60,285.40 396.37,286.87 397.08,284.29 394.99,282.63 397.66,282.51" fill="#0a0a0a"/>
<text x="285.4" y="330.3" font-size="14.5" text-anchor="middle" transform="rotate(-90 285.4 330.3)" textLength="104.6" lengthAdjust="spacingAndGlyphs" fill="#0a0a0a">Wound healing</text>
<text x="300.8" y="330.3" font-size="14.5" text-anchor="middle" transform="rotate(-90 300.8 330.3)" textLength="57.7" lengthAdjust="spacingAndGlyphs" fill="#0a0a0a">area (%)</text>
<text x="365.3" y="398" font-size="13.1" text-anchor="end" transform="rotate(-45 365.3 398)" fill="#0a0a0a">si-FGD5-AS1</text>
<text x="405.3" y="398" font-size="13.1" text-anchor="end" transform="rotate(-45 405.3 398)" fill="#0a0a0a">si-FGD5-AS1+AMO-miR-153-3p</text>
<text x="459.6" y="285.6" font-size="13" textLength="78.3" lengthAdjust="spacingAndGlyphs" fill="#0a0a0a">si-FGD5-AS1</text>
<text x="569.3" y="270.6" font-size="13" textLength="85.9" lengthAdjust="spacingAndGlyphs" fill="#0a0a0a">si-FGD5-AS1+</text>
<text x="569.3" y="285.6" font-size="13" textLength="104.7" lengthAdjust="spacingAndGlyphs" fill="#0a0a0a">AMO-miR-153-3p</text>
<rect x="451.90" y="299.40" width="101.30" height="76.20" fill="#d1d1d6"/>
<path d="M488.4 349.2L486.8 350.3M458.8 371.9L457.4 372.9M466.8 301.3L465.0 303.3M471.6 302.8L470.1 303.3M493.2 350.9L494.7 352.2M468.2 301.2L466.0 301.2M536.2 352.6L537.9 354.1M467.3 302.7L468.3 304.1M471.1 303.6L469.1 304.2M491.9 349.0L490.8 350.7M476.3 303.1L474.8 305.4M460.7 369.3L461.6 371.7M462.6 369.1L461.4 372.9M474.3 303.2L472.6 304.6M506.0 368.1L505.2 369.9M501.8 369.2L502.0 373.1M499.8 348.6L496.6 350.6M492.0 346.0L493.7 346.2M477.0 352.5L475.1 353.7M487.9 366.1L491.6 367.6M466.9 310.5L468.9 310.6M497.1 347.8L496.9 350.0M460.6 308.8L461.9 311.1M477.9 303.6L476.2 305.6M477.2 305.2L474.0 306.2M458.4 363.6L457.1 365.6M541.7 330.5L538.6 331.9M495.6 348.1L497.2 348.6M518.2 362.7L516.6 364.5M491.0 347.5L490.9 350.3M466.4 302.6L466.4 305.9M497.6 347.5L496.4 349.4M456.1 366.3L456.1 370.2M496.4 345.5L494.3 347.0M540.3 327.5L541.9 329.9M489.9 353.0L491.5 353.3" stroke="#c9a6e0" stroke-width="2.6" stroke-linecap="round" fill="none" stroke-opacity="0.75"/>
<path d="M534.4 307.8L535.9 308.2M479.2 334.4L480.9 332.9M497.5 305.3L498.0 304.9M513.1 333.0L514.8 332.9M541.1 312.2L542.7 310.7M539.8 353.3L541.2 352.4M516.5 364.9L516.9 364.0M470.2 320.0L470.9 319.2M482.6 332.9L483.9 331.6M501.0 316.0L503.0 315.9M474.1 340.1L474.1 339.5M501.0 360.6L501.8 360.1M539.3 348.6L539.9 347.7M506.9 365.5L507.5 365.6M491.9 315.6L493.2 313.9M502.5 314.9L503.8 313.8M460.4 327.8L460.1 325.4M468.6 310.9L469.3 308.9M483.5 346.7L482.8 344.9M495.9 351.9L494.6 349.9M513.2 346.0L513.9 344.5M483.3 343.4L484.5 342.3M528.1 305.4L528.9 305.0M497.5 370.2L499.3 369.0M504.2 308.5L505.6 308.2M489.0 369.4L489.6 369.1M506.4 313.0L506.7 312.5M479.0 333.6L479.8 333.5M493.7 348.8L496.0 348.9M513.4 341.1L515.2 339.7M495.7 307.0L497.3 306.1M500.2 369.4L500.7 368.3M502.4 353.6L504.7 352.7M499.8 330.2L502.0 329.9M509.9 369.9L511.9 369.2M543.2 337.3L544.7 337.7M516.0 335.1L516.6 334.6M517.2 320.9L517.9 321.4M508.7 312.5L510.3 312.2M509.8 348.3L510.3 347.9M512.4 364.1L513.2 363.6M499.4 314.1L501.6 314.4M509.7 314.8L509.5 313.1M496.0 361.0L498.1 360.9M520.6 371.5L520.9 369.4M543.2 316.2L544.6 314.5M532.3 355.8L533.4 354.9M472.1 314.3L472.2 312.2M453.5 347.0L454.9 345.5M513.7 308.1L514.4 307.2M497.0 365.2L494.9 363.9M520.5 360.0L522.5 359.2M479.0 333.6L479.0 331.3M467.1 312.7L468.7 312.0M489.8 359.7L490.4 357.3M499.2 303.8L499.7 302.5M512.4 305.8L512.9 306.2M505.9 304.5L508.1 303.3M495.2 343.1L497.6 343.5M516.6 323.1L517.3 322.7M487.4 311.4L488.6 310.9M542.5 343.7L543.5 341.8M510.5 319.0L511.5 319.2M521.6 344.5L522.3 342.8M516.0 346.1L517.0 346.0M505.7 309.1L506.1 308.5M544.1 311.8L544.7 310.9M466.9 317.0L469.4 317.6M506.0 370.2L507.6 368.9M513.4 347.9L513.3 346.5M543.8 305.0L545.7 304.5M496.1 317.0L496.8 316.6M460.0 306.6L459.7 304.9M502.4 316.2L504.0 315.2M480.5 358.6L481.6 358.1M500.3 365.2L502.1 364.1M543.6 346.5L544.8 344.6M491.1 338.2L492.4 337.9M534.9 305.6L535.7 303.7M518.0 336.2L519.3 334.5M517.7 361.0L518.1 360.4M487.6 339.6L489.4 338.5M494.0 331.1L495.5 330.9M470.3 312.1L471.1 310.1M519.3 337.4L520.8 336.7M519.2 336.9L519.6 334.7M491.3 330.4L490.9 328.6M504.0 306.2L505.4 305.9M489.4 312.2L490.4 312.2M494.4 370.9L495.4 369.8M489.3 330.9L489.5 330.2M499.9 316.3L500.0 315.0M480.5 338.7L481.5 338.3M480.5 348.1L482.1 347.5M497.7 362.7L497.6 361.9M491.9 316.1L492.8 315.8M471.3 359.5L472.6 357.5M539.9 368.9L541.0 367.9M493.6 358.3L494.5 358.2M533.7 310.4L534.2 308.4M510.1 340.9L511.7 339.2M534.8 306.1L535.6 305.3M466.5 335.2L468.2 334.7M502.8 305.7L505.2 306.2M491.9 333.5L494.2 332.5M483.1 330.2L484.8 330.4M502.5 315.3L503.2 314.1M502.0 315.6L502.8 314.6M466.2 325.5L465.3 323.4M518.2 350.1L519.9 348.3M468.4 336.5L468.8 335.6M502.4 369.7L502.9 368.3M496.3 318.5L497.9 317.4M497.4 324.1L498.4 323.0M499.3 305.2L500.5 304.8M545.3 310.1L546.3 309.9M549.1 303.8L549.2 302.0M503.5 303.6L503.8 303.1M508.2 312.1L509.0 311.1M498.8 313.5L500.9 313.2M480.6 331.9L481.3 331.1M501.6 321.4L503.0 321.0M508.3 312.9L509.7 313.4M524.0 330.8L524.9 329.4M501.2 365.8L502.2 363.8M524.6 337.3L526.1 336.4M472.4 323.1L475.0 323.2M529.8 360.9L529.3 359.1M506.3 317.5L506.6 316.9M503.7 363.5L504.9 362.2M538.2 338.6L538.6 336.4M509.4 361.6L511.3 360.9M464.8 360.2L466.9 359.3M510.3 354.1L511.6 354.3M546.4 307.8L546.8 307.2M503.2 333.6L505.6 334.1M476.1 363.6L477.2 363.9M489.2 311.4L490.0 310.4M511.1 342.9L511.9 341.0M513.4 323.5L512.8 322.9M504.3 308.3L504.8 307.5M472.0 314.2L472.8 313.2M502.5 364.5L505.0 364.2M499.2 314.9L500.3 315.3M496.4 367.3L497.7 365.9M488.5 345.0L489.3 344.5M502.8 369.7L503.7 368.5M485.3 373.3L486.3 371.4M463.7 352.4L464.6 351.7M479.6 331.1L479.8 329.7M497.1 316.8L497.7 316.0M494.4 321.3L494.6 318.7M505.0 320.5L506.2 319.4M517.7 344.2L519.3 342.7M503.8 323.9L504.8 321.8M505.7 352.6L507.1 351.9M513.9 364.1L514.5 364.0M528.9 341.5L531.3 340.8M522.0 329.4L523.5 328.7M507.1 314.1L508.0 311.9M490.3 305.8L491.2 304.5M489.1 324.4L489.7 322.8M506.3 307.7L506.9 306.4M480.5 359.6L480.6 357.7" stroke="#8636cf" stroke-width="2.3" stroke-linecap="round" fill="none" stroke-opacity="0.95"/>
<path d="M542.3 315.3L543.6 315.0M464.3 357.0L465.5 356.9M511.5 318.5L512.3 317.8M483.7 342.8L483.9 343.2M518.0 340.9L519.1 340.6M473.4 325.1L474.0 325.5M490.1 314.9L490.5 314.8M517.0 338.0L518.5 337.4M499.5 313.3L500.1 313.1M487.5 323.2L488.4 322.4M523.8 343.4L523.6 342.9M508.2 318.5L508.6 316.8M479.5 329.1L480.9 329.2M516.4 368.6L517.7 367.9M538.6 321.8L539.6 321.6M504.5 314.8L505.0 314.7M537.3 315.2L537.6 314.8M526.7 338.1L528.3 338.3M464.5 327.5L465.7 326.5M512.2 312.8L513.6 313.0M489.7 361.7L488.8 360.3M533.9 364.6L533.9 364.1M480.5 353.2L481.0 352.8M472.1 358.3L472.6 357.6M537.1 314.0L537.2 313.3M482.3 368.9L484.0 369.2M478.7 328.0L480.2 328.2M507.3 365.1L507.4 364.8M543.6 359.1L543.7 358.3M517.0 367.4L517.6 367.0M515.1 334.8L516.4 334.1M490.4 368.8L490.8 368.7M511.7 365.6L512.6 364.8M494.9 354.2L494.9 353.9M468.4 331.1L468.4 330.7M540.9 352.6L542.0 351.5M510.9 306.8L510.7 305.1M467.9 347.3L468.2 346.3M531.0 344.5L531.5 344.0M509.0 316.9L510.5 317.4M483.0 364.5L483.7 363.7M509.6 322.5L511.1 322.0M543.8 310.8L544.7 310.9M488.6 331.1L490.1 330.4M486.8 314.7L486.7 313.1M539.4 307.1L540.6 306.9M495.0 321.6L495.7 321.4M492.4 353.5L493.9 353.2M509.5 301.8L510.1 301.7M517.1 316.8L518.3 316.1M506.1 321.9L505.7 320.6M492.3 326.7L492.5 325.0M495.2 311.6L496.2 310.3M549.0 310.4L549.9 310.1M492.5 356.9L492.8 356.7M492.9 352.5L493.4 352.2M500.5 331.6L501.4 330.4M537.0 353.1L537.2 352.6M514.0 308.4L515.0 307.3M491.3 313.6L491.7 313.0M482.8 343.6L483.0 343.5M502.4 337.9L504.0 337.4M503.5 347.7L504.8 347.0M492.4 353.4L492.9 352.9M454.2 343.7L454.4 343.1M509.8 363.3L510.1 362.6M532.8 353.5L533.3 352.9M480.8 337.0L481.6 336.7M500.0 369.6L500.0 369.3M485.9 342.7L485.9 342.4M503.6 313.4L502.6 311.9M548.8 314.5L548.1 313.1M547.3 309.3L547.1 308.7M517.0 361.5L517.0 360.3M469.1 313.1L470.4 312.3M537.2 305.6L538.3 305.6M516.1 342.8L516.7 342.3M517.9 366.0L518.3 365.4M470.1 322.4L469.8 322.0M536.2 345.8L536.6 345.6M501.1 328.8L501.2 328.1M497.2 340.7L498.5 339.8M507.7 322.2L509.0 321.6M459.0 337.2L459.4 337.3M479.2 323.8L479.6 323.1M548.6 316.5L548.7 315.8M542.0 337.4L541.9 337.0M472.3 347.9L473.4 346.7M539.0 301.7L540.4 301.7M547.5 349.7L548.0 349.4M523.1 336.0L523.4 335.7M513.4 326.6L514.0 326.7M504.6 371.0L504.6 370.4M481.5 363.5L481.5 362.6M486.7 353.2L487.3 352.8M511.8 366.6L513.5 366.6M473.5 310.8L474.7 310.6M498.5 321.2L499.1 320.2M496.5 310.3L496.9 309.5M491.6 361.1L492.1 361.1M523.1 363.8L523.5 363.8M514.9 366.8L516.1 367.2M519.4 311.4L519.7 311.1M481.4 344.4L482.2 345.3M491.6 363.1L492.2 362.0M509.9 315.1L510.4 314.3M473.0 327.8L473.2 327.4M520.0 316.7L521.2 316.1M457.1 323.2L457.5 322.3M520.9 363.3L521.0 362.9M509.5 317.3L510.4 315.7M499.6 314.7L499.7 314.3M507.3 305.0L508.0 303.4M486.9 319.5L488.5 319.7M520.6 332.4L521.3 331.5" stroke="#4a22a6" stroke-width="1.8" stroke-linecap="round" fill="none" stroke-opacity="0.95"/>
<path d="M539.2 372.8L539.6 372.8M467.7 361.5L467.3 362.0M467.7 339.8L467.9 339.9M482.6 372.9L482.1 373.2M456.5 331.0L456.7 331.2M463.2 369.2L463.2 369.6M518.2 366.6L518.1 367.3M502.5 368.1L502.8 368.5M526.7 318.9L526.8 319.3M500.2 326.5L500.2 326.9M456.9 363.0L456.9 363.2M507.2 329.8L507.5 329.9M489.4 323.2L489.8 323.5M527.8 336.4L527.8 336.6M488.8 344.8L489.1 345.1M513.6 344.1L513.6 344.5M504.1 356.8L504.3 356.9M477.3 319.7L477.5 320.3M539.1 329.9L538.9 330.2M460.4 374.1L460.7 374.7M484.2 361.5L483.9 362.1M457.7 357.5L457.6 357.7M507.5 370.0L508.1 370.1M546.3 356.8L546.8 356.8M526.9 331.3L526.2 331.3M544.7 304.8L544.8 305.4M528.0 328.0L528.1 328.4M463.5 323.7L464.2 323.8M463.7 362.7L463.6 363.2M463.6 308.4L463.2 308.4M508.6 369.5L508.7 369.8M506.4 363.3L506.1 363.4M499.7 301.6L499.8 302.0M520.4 369.9L520.1 370.3M491.3 358.6L491.1 358.8M468.7 343.9L468.8 344.2M468.5 325.8L468.5 326.3M491.1 342.8L491.4 343.5M510.8 335.7L511.2 336.4M522.7 317.1L522.4 317.3M510.2 318.9L510.0 319.1M490.2 353.8L490.1 354.2M508.5 373.4L508.6 374.1M500.9 316.9L501.5 317.1M483.0 363.9L482.9 364.1M509.3 341.3L509.6 341.5M547.9 357.6L548.5 357.8M531.3 315.9L531.3 316.2M513.8 308.3L513.6 308.9M542.9 369.5L543.1 370.1M548.4 354.1L548.1 354.2M525.4 319.6L525.7 319.6M506.2 318.6L506.5 318.9M465.1 336.2L465.3 336.5M479.7 338.0L480.3 338.4M539.0 364.3L538.9 364.8M526.5 340.1L526.0 340.2M530.5 319.2L530.3 319.2M488.6 359.2L488.7 359.6" stroke="#8a7ab8" stroke-width="0.9" stroke-linecap="round" fill="none" stroke-opacity="0.7"/>
<rect x="562.40" y="298.90" width="102.50" height="76.60" fill="#d6ddd6"/>
<path d="M631.2 326.0L632.3 328.1M628.8 362.4L630.5 363.2M629.6 309.2L631.5 310.1M637.9 341.2L635.5 341.8M573.3 309.0L572.4 310.2M637.3 358.9L636.2 360.3M625.3 369.8L625.2 371.0M567.2 307.2L564.1 307.7M632.5 357.6L630.3 358.8M632.1 305.1L630.2 305.4M642.4 330.9L643.2 332.5M602.0 346.9L603.1 348.9M607.7 316.0L610.4 317.7M626.5 327.1L629.2 328.9M625.2 343.3L624.7 345.7M642.3 336.1L641.1 337.5M643.8 339.9L643.0 340.7M634.8 335.7L634.1 336.8M650.2 350.9L649.1 351.7M596.5 358.7L597.7 360.2M565.2 354.8L565.2 355.9M603.8 354.9L604.8 355.5M623.5 326.7L626.5 328.1M659.7 313.1L659.0 314.2M636.4 370.6L637.3 372.6M663.2 346.2L660.9 348.8M574.2 322.6L575.8 324.4M630.7 326.3L634.0 327.1M635.6 319.6L633.5 320.3M611.3 308.0L613.1 309.3M629.8 335.2L626.8 335.6M638.8 326.9L639.1 329.5M629.2 369.4L630.4 370.0M600.8 353.4L599.1 353.7M576.0 333.9L573.6 336.2M595.1 340.6L593.9 342.2M617.4 350.9L619.4 351.7M645.1 347.6L643.8 349.9M597.4 335.2L599.5 335.8M642.9 347.6L642.8 348.7M645.3 314.4L642.8 316.2M585.8 357.2L585.9 360.5M630.4 343.7L628.2 344.2M633.5 332.3L632.6 333.8M617.3 313.0L614.9 314.8M622.2 355.5L625.5 355.7M614.1 327.4L615.0 329.9M625.0 353.0L623.0 354.9M624.9 308.2L627.6 308.8M641.5 357.5L640.8 360.6M627.5 335.7L628.3 337.5" stroke="#b99be0" stroke-width="2.4" stroke-linecap="round" fill="none" stroke-opacity="0.6"/>
<path d="M583.5 331.2L584.8 330.7M657.6 324.1L660.4 324.4M591.2 371.5L593.2 372.2M590.5 339.7L591.6 338.2M570.5 355.6L571.8 355.1M610.4 331.6L611.9 330.0M656.7 338.6L657.6 335.8M603.4 359.5L604.3 359.7M644.6 308.0L646.5 305.9M659.8 367.1L660.7 366.8M606.5 309.1L608.0 308.3M638.1 330.7L639.2 328.8M574.0 332.4L575.7 332.5M637.7 355.4L639.5 354.3M651.5 314.0L651.6 313.1M623.4 330.1L624.0 328.4M603.5 322.8L605.6 321.5M611.0 367.2L610.9 365.4M641.8 329.4L644.0 329.9M592.2 355.7L593.3 353.0M629.2 317.4L629.5 315.0M588.5 346.3L589.5 345.5M647.3 329.3L649.2 328.5M639.7 356.8L641.3 355.4M594.7 355.6L596.7 353.5M612.1 311.6L614.2 311.8M629.7 322.1L631.1 320.0M608.3 340.2L610.9 338.7M658.9 326.2L661.3 325.6M632.4 362.7L633.9 362.0M620.6 318.0L621.3 316.1M625.6 363.2L627.6 362.5M628.4 356.3L630.3 354.6M583.8 353.9L584.3 351.6M591.2 338.4L591.3 336.8M628.0 370.5L629.5 368.5M579.6 313.5L581.2 312.2M598.0 358.6L598.2 357.1M611.2 304.3L611.8 302.5M641.2 352.4L640.7 349.6M656.3 330.1L656.0 327.1M583.8 329.2L585.9 329.1M565.8 310.3L568.0 310.9M636.6 345.2L637.9 344.8M656.3 326.7L657.8 325.8M635.7 338.3L637.0 337.5M639.0 347.5L640.3 345.7M602.2 338.4L602.6 336.6M616.0 360.2L618.1 358.4M564.8 360.5L566.6 359.3M568.1 353.1L568.7 351.1M571.1 337.6L572.2 336.9M628.9 365.8L630.1 365.7M605.7 341.6L606.6 341.4M645.7 325.2L648.5 324.1M627.2 308.0L628.7 306.7M606.5 358.2L607.6 356.4M654.3 351.0L655.1 350.0M617.4 325.4L618.9 324.0M601.2 325.5L602.1 324.3M638.4 351.2L639.4 350.5M627.2 349.7L628.2 349.2M615.1 326.6L617.2 327.4M638.1 323.8L638.8 323.0M636.3 345.5L637.7 343.2M604.8 349.5L605.1 348.7M589.7 314.5L590.5 313.9M657.8 349.7L658.8 350.0M628.1 352.8L630.2 350.9M622.1 308.6L623.2 307.8M656.5 323.7L658.0 323.4M579.9 337.3L581.8 337.2M619.9 317.6L620.8 316.8M565.3 314.2L566.4 312.7M625.0 356.9L626.8 355.2M577.3 311.7L577.8 311.0M654.3 364.3L654.1 363.2M622.7 316.1L623.5 317.0M606.3 304.2L608.1 304.9M603.2 328.1L605.6 327.6M610.6 353.1L612.5 352.0M650.1 342.2L652.3 341.7M646.8 322.7L648.5 321.2M645.4 344.0L644.8 342.9M649.3 357.4L650.3 357.7M598.5 346.3L600.5 344.2M620.1 367.4L623.0 366.7M577.0 330.8L577.3 328.8M583.2 358.4L584.5 358.3M610.6 351.2L612.9 351.0M646.7 342.4L647.9 341.5M639.7 316.0L640.3 314.2M625.6 335.1L626.7 333.6M605.8 324.0L605.3 322.4M637.3 334.5L639.6 334.3M582.6 346.0L583.8 346.2M647.2 329.9L647.9 328.9M600.0 370.9L600.4 369.9M587.8 318.4L589.6 318.5M578.6 326.0L579.1 325.1M600.8 349.4L600.4 347.9M627.7 317.8L628.0 316.9M591.3 331.9L592.1 330.9M648.5 336.4L651.0 335.2M598.8 327.0L599.7 326.7M636.7 305.5L637.6 303.6M631.6 370.6L633.7 369.6M571.4 308.8L570.0 307.0M607.7 342.9L608.2 342.0M585.4 335.7L586.9 335.1M593.8 326.0L594.7 325.3M638.2 304.4L640.2 303.2M566.9 370.6L568.4 370.5M626.8 355.1L625.9 353.1M582.6 302.8L584.5 301.9M592.8 369.6L593.7 368.7M659.2 346.8L660.1 345.7M654.8 360.2L655.2 359.4M659.3 365.6L660.3 364.7M594.0 312.6L595.9 311.1M633.5 355.5L634.1 353.8M621.8 361.2L623.5 360.6M590.8 365.8L592.3 367.3M599.6 357.7L600.2 356.2M597.3 326.4L599.8 325.4M631.3 364.2L632.2 362.8M572.0 361.3L573.4 358.8M601.2 308.4L601.2 307.3M610.9 328.3L611.1 327.3M583.4 343.7L584.3 341.4M598.0 334.7L598.5 333.9M597.9 373.1L599.4 373.7M575.2 361.3L575.5 360.3M571.6 305.7L573.2 306.3M653.6 371.2L655.1 373.1M609.8 358.8L612.0 358.2M614.1 353.6L616.4 353.4M642.8 362.4L643.7 361.8M643.9 331.1L644.9 330.5M626.5 346.0L627.1 345.2M600.5 368.3L601.8 368.1M627.7 350.6L629.9 349.4M605.8 302.2L606.7 302.0M618.4 345.6L618.7 343.6M583.6 349.6L585.0 347.9M628.9 332.8L631.2 332.4M628.3 327.7L628.9 326.1M634.9 311.1L636.5 310.3M608.5 352.4L609.6 350.4M653.5 337.8L655.4 335.7M653.7 350.6L654.6 349.6M629.0 350.0L631.0 349.2M601.0 312.2L602.0 312.6M623.9 355.7L625.8 355.5M659.7 329.1L660.5 329.7M568.2 321.5L569.7 321.9M571.4 364.4L572.9 364.0M654.4 305.5L655.7 303.9M570.1 331.0L572.6 330.5M644.7 329.7L645.5 329.2M604.7 331.2L605.3 329.7M641.5 323.1L642.2 321.8M626.5 336.8L626.4 335.9M593.3 372.5L594.2 371.9M595.9 331.3L596.8 331.3M630.5 366.2L632.5 366.1M596.8 356.8L598.5 356.1M637.0 351.4L636.6 349.6M620.7 339.8L622.8 338.4M624.6 345.8L626.5 343.7M631.0 346.7L633.0 346.0M639.7 308.4L640.9 306.6M606.4 325.4L606.9 322.7M660.0 330.3L661.8 330.2M622.5 353.0L622.9 352.1M636.1 352.7L637.3 351.4M631.7 363.6L632.7 361.9M635.0 315.5L634.8 312.7M592.1 349.2L593.0 348.6M608.2 359.9L608.8 359.1M661.3 354.4L662.7 353.2M590.4 340.2L590.0 338.0M626.7 311.0L629.1 309.3M658.5 370.1L661.1 369.4M646.2 342.7L646.9 342.0M567.2 304.8L566.5 302.4M600.0 348.4L600.1 347.4M635.8 360.8L637.4 359.9M618.2 307.2L619.0 307.2M587.5 316.9L587.5 315.6M636.9 346.5L637.9 345.3M566.7 351.7L569.2 350.4M623.1 360.8L626.0 360.8M624.8 326.8L625.5 326.6M623.1 365.5L623.4 363.0M609.0 367.8L610.6 367.5M571.5 322.4L573.2 322.2M643.1 325.1L646.1 324.7M639.8 327.6L641.2 327.1M615.6 320.1L616.6 318.4M583.7 325.2L584.3 324.3M622.9 309.3L625.8 309.1M619.3 338.4L621.1 338.2M662.0 342.4L662.9 341.5M599.2 346.2L598.9 343.6M614.5 352.1L615.4 351.2M575.8 364.9L576.0 362.4M649.6 337.5L650.9 336.2M595.9 359.0L596.4 357.0M651.2 321.0L651.6 320.1M583.1 368.9L583.7 369.7M611.1 334.6L613.7 335.5M595.5 329.8L597.8 327.8M631.6 360.5L633.3 360.5M652.5 323.0L652.8 321.8M625.3 338.6L626.5 338.1M655.3 370.0L657.2 369.3M647.0 317.5L647.9 316.7M651.0 365.6L651.7 365.0M586.5 364.8L587.2 363.7M639.0 356.5L640.1 354.1M638.3 335.3L639.3 333.6M575.6 336.6L578.3 335.6M648.7 367.1L649.1 365.2M566.8 347.0L568.5 347.5M663.0 317.5L663.1 316.5M586.5 335.3L587.9 334.6M646.2 331.1L649.1 330.5M641.3 310.7L641.3 308.1M622.1 330.0L623.2 328.5M630.0 367.3L630.7 366.3M636.5 362.9L637.9 362.2M606.7 309.3L608.1 309.2M660.9 321.7L661.9 321.0M626.3 342.3L625.5 340.5M611.2 314.5L612.0 315.2M612.7 360.0L615.6 359.7M631.5 354.2L632.6 354.0M629.0 307.5L629.9 307.0M631.0 362.6L633.3 361.1M658.2 342.8L660.2 342.5M607.9 324.6L608.4 323.8M603.8 370.6L604.8 369.8M633.4 347.1L635.1 345.9M638.5 322.2L639.2 320.9M588.3 366.5L589.5 364.5M597.1 372.7L598.6 371.3M573.0 301.7L575.1 302.1M635.6 369.9L636.9 367.5M582.0 321.7L582.5 320.2M652.2 361.4L652.4 360.1M646.6 331.2L647.8 329.0M564.9 311.4L567.1 312.7M591.7 342.7L593.1 343.3M570.6 316.7L571.7 316.0M619.6 317.5L620.6 315.1M610.6 310.6L610.8 308.7M614.2 325.1L614.3 323.0M641.2 321.8L641.1 320.2M580.0 372.4L582.8 371.6M635.0 346.8L637.1 345.3M638.5 346.3L638.5 344.1M571.0 351.6L572.3 349.6M661.6 336.3L662.0 335.2M602.8 340.3L604.0 340.5M607.6 348.3L609.1 347.2M630.5 334.5L629.4 332.3M627.3 339.5L629.3 338.8M612.6 333.3L613.4 332.3M628.7 319.4L628.3 317.3M587.9 354.2L589.1 352.8M589.1 366.3L589.9 364.8M622.1 339.8L621.1 338.1M595.1 351.6L596.7 351.1M645.6 346.9L647.5 345.4M615.4 321.5L617.4 320.1M605.8 316.4L606.7 315.7M584.8 359.7L585.9 359.2M632.9 317.5L632.9 315.2M579.7 306.0L581.5 304.8M623.6 355.4L626.0 354.8M576.9 352.3L578.1 349.6M633.9 364.3L634.9 361.9M627.5 348.7L628.2 347.6M628.9 301.8L631.7 301.1M640.3 336.7L642.0 336.6M631.9 323.2L633.9 323.1M602.4 358.5L602.6 357.7M642.0 327.5L643.0 326.4M635.4 341.3L635.9 339.4M623.5 356.8L625.3 356.8M569.4 326.3L571.5 325.9M638.7 310.2L639.8 308.5M636.1 357.8L637.9 357.2M607.7 300.4L609.6 300.4M630.9 326.7L632.7 327.4M627.8 344.1L627.4 342.3M581.7 305.8L584.1 304.7M654.2 339.6L656.2 339.1M577.2 332.7L578.6 332.0M579.7 368.1L580.5 367.9M567.9 343.2L570.6 342.7M603.7 351.2L604.7 349.2M618.7 338.4L620.2 339.0M626.6 309.6L627.6 311.9M598.2 349.0L597.8 347.1M655.1 357.4L654.9 356.1M638.4 351.2L638.0 348.3M623.1 349.6L625.0 348.8M600.3 304.2L602.3 304.2M568.5 366.0L569.4 364.7M623.1 324.5L625.0 324.4M621.4 310.7L622.5 310.0M636.9 330.5L639.1 329.0M629.6 322.2L630.2 319.5M616.7 353.8L617.8 352.8M591.5 359.3L592.8 358.8M631.1 318.5L633.4 319.8M623.1 305.0L623.3 303.4M648.2 347.6L649.2 347.1M585.6 346.2L587.4 346.1M634.3 333.2L634.9 331.9M637.8 337.1L640.2 336.5M626.2 347.8L626.2 346.1M627.2 352.6L627.1 351.8M611.7 365.0L612.8 363.3M578.2 333.1L579.4 331.6M595.6 334.7L596.6 334.7M617.3 310.5L618.1 311.0M617.9 356.0L618.5 354.0M579.4 348.7L580.6 347.5M611.9 356.1L612.3 354.7M624.5 323.9L626.0 323.1M573.0 333.4L573.3 331.3M628.6 315.0L630.4 314.6M615.9 303.6L616.8 302.7M661.0 329.1L662.3 328.1M589.4 342.4L591.0 340.7M614.3 352.4L614.4 351.4M612.9 338.9L612.4 337.2M627.6 324.8L630.5 324.4M658.7 335.7L658.8 334.7M580.4 315.9L579.7 314.2M654.5 303.9L655.5 303.1M630.3 370.0L631.4 369.9M632.6 361.0L635.5 360.5M619.1 336.1L619.9 335.4M625.9 348.1L626.4 347.2M637.6 307.9L637.5 307.0M584.7 305.3L587.3 305.1M633.1 315.1L635.4 314.4M660.0 302.0L660.9 301.3M640.1 319.3L641.0 319.6M620.9 306.5L619.9 304.3M646.7 357.1L648.6 357.0M627.0 360.0L628.4 358.5M589.3 368.5L591.2 366.6M625.1 373.0L626.8 371.9M639.7 312.8L640.8 310.8M644.5 335.4L645.0 334.6M656.0 350.0L658.8 350.1M659.6 300.6L661.4 300.9M626.3 326.8L627.8 326.0M570.8 309.7L571.7 307.8M624.6 357.9L625.7 356.9M659.3 358.0L660.5 356.4M611.7 328.5L614.0 326.7M620.7 332.0L622.2 331.9M583.1 364.8L585.1 362.8M644.8 341.3L647.0 340.8M609.2 312.5L611.0 311.3M591.3 331.8L592.9 330.3M579.7 310.3L580.1 309.4M566.9 357.3L567.9 356.8M636.0 365.8L636.8 363.8M648.9 341.7L650.9 340.2M661.9 332.4L662.9 330.9M598.2 323.5L599.7 322.7M622.6 338.0L622.2 335.5M622.7 309.8L624.4 310.0M565.8 349.0L566.5 347.4M581.5 346.5L580.5 344.9M587.5 347.5L589.4 346.9M617.4 309.5L618.5 308.6M662.0 360.5L662.5 358.3M593.6 321.0L594.9 320.6M569.2 318.0L569.4 317.1M638.6 359.5L639.6 357.1M639.0 359.0L640.1 358.0M606.4 334.0L607.2 333.6M643.1 302.3L645.0 301.8M657.0 334.6L657.6 333.1M636.8 327.5L638.6 327.3M579.9 360.8L581.2 359.5M602.1 325.0L602.7 323.1M646.5 312.0L648.1 310.5M588.2 363.9L589.9 364.3M622.7 367.8L623.9 367.6M628.9 353.7L629.9 353.7M593.2 311.0L594.2 310.3M648.9 323.0L648.7 321.6M659.3 321.6L660.9 320.0M599.9 304.2L600.7 302.8M565.4 320.1L566.3 319.6M571.5 357.2L571.3 355.2M581.7 331.6L583.8 329.7M623.0 305.2L624.5 304.9M651.8 303.6L653.0 303.6M647.7 310.5L649.9 311.1M631.0 340.4L631.9 339.4M582.8 338.9L584.5 338.1M650.2 351.9L650.8 351.2M615.2 334.0L617.2 332.2M639.7 337.8L640.8 337.0M634.0 301.7L635.8 301.5M610.7 344.1L610.8 342.8M651.3 346.9L652.0 346.6M634.9 323.6L635.9 322.7M632.2 367.1L633.3 366.7M623.4 319.7L624.5 319.1M634.6 330.2L636.0 329.9M592.1 323.6L594.4 322.6M595.8 312.3L596.8 313.5M585.1 303.4L586.3 301.8M565.6 313.6L567.0 316.1M637.9 349.7L638.7 349.5M617.1 337.1L618.3 335.5M646.8 329.7L649.2 328.5M566.8 329.7L567.6 329.5M645.9 335.9L646.5 335.3M647.3 326.0L646.7 323.5M616.1 360.0L617.5 359.7M598.9 344.5L598.9 343.2M612.2 333.8L614.6 332.2M632.2 327.7L633.6 326.9M575.9 322.5L576.9 323.0M645.6 304.0L645.3 302.5M647.0 342.0L647.6 339.1M652.5 314.4L653.5 313.1M637.5 355.8L637.7 354.9M619.8 325.9L620.7 325.6M596.3 372.5L597.5 370.6M644.1 313.4L644.9 311.6M654.7 303.5L655.9 302.8M606.3 322.7L607.1 320.4M613.5 342.4L614.3 340.1M658.7 332.2L661.1 331.7M609.6 322.2L611.1 320.6M571.2 329.9L571.0 327.8M649.0 366.9L651.9 367.1M598.3 319.1L600.3 318.3M628.6 359.2L629.4 356.9M577.4 366.4L577.6 365.1M618.4 354.3L620.7 353.0M628.3 332.6L629.5 331.8M581.3 329.6L583.7 330.4M647.0 334.0L647.8 333.7M569.9 340.1L570.8 339.9M639.9 341.5L640.6 340.9" stroke="#7a30c8" stroke-width="2.2" stroke-linecap="round" fill="none" stroke-opacity="0.95"/>
<path d="M582.8 336.1L581.3 335.1M633.3 355.9L633.1 354.2M633.6 331.3L635.1 331.3M616.1 331.3L616.1 330.3M604.6 366.3L606.2 367.2M570.9 306.2L571.2 305.7M646.6 344.2L647.1 343.8M643.5 365.5L644.5 364.5M605.6 305.4L605.3 304.1M633.6 304.7L635.4 303.6M645.0 344.3L646.6 342.9M661.1 336.9L662.7 336.8M605.7 306.3L606.9 305.4M657.2 307.9L657.3 306.4M618.0 319.7L617.4 318.9M605.0 304.8L604.6 303.0M606.4 334.9L607.0 334.4M611.3 355.7L613.1 354.9M598.6 358.3L599.4 356.9M603.5 329.6L603.8 328.8M610.5 303.8L611.4 303.2M563.6 315.1L564.3 313.3M654.2 311.6L654.7 310.6M619.2 368.3L621.1 368.3M583.7 341.1L583.6 339.6M642.3 301.2L643.7 300.9M600.5 341.3L600.7 340.7M612.5 353.0L613.3 351.4M648.8 334.0L650.2 334.2M612.5 330.9L613.5 329.7M587.6 344.0L588.5 343.1M660.9 356.4L661.7 355.1M582.0 328.5L583.1 327.5M612.2 365.5L613.5 365.9M639.4 300.2L640.7 300.6M627.5 350.6L628.6 348.7M564.5 345.9L565.6 345.7M631.4 369.0L631.7 368.5M653.2 313.6L654.3 311.9M580.5 368.8L580.9 367.2M632.7 337.5L634.3 337.6M653.3 336.1L654.0 335.3M613.4 319.8L614.5 319.0M576.9 334.3L578.1 333.0M579.5 329.8L581.0 328.9M620.5 324.4L622.2 325.5M626.1 326.7L626.4 325.8M618.4 321.6L619.7 320.8M647.3 335.7L647.1 334.1M628.5 353.8L629.0 353.6M662.9 337.8L663.0 337.0M650.3 339.0L651.5 337.5M627.1 342.1L627.6 342.0M595.2 372.1L596.2 371.4M624.5 342.4L625.2 341.9M630.2 347.5L632.1 347.2M611.8 331.6L611.9 330.8M574.2 322.7L574.8 321.7M592.8 341.1L594.1 340.5M658.6 301.4L659.3 300.9M609.0 322.4L608.6 321.4M613.5 328.8L614.9 327.7M634.7 338.4L635.3 338.5M586.5 358.6L586.5 358.2M593.3 338.1L593.5 337.1M629.6 320.5L630.1 319.9M651.8 319.1L651.7 318.5M620.7 343.7L621.9 342.7M608.2 338.1L609.8 336.6M608.9 311.6L609.4 311.8M597.5 306.3L599.0 305.0M619.1 349.9L619.6 348.7M631.5 335.3L632.4 335.1M619.0 346.0L619.6 345.5M600.2 311.2L601.3 310.2M623.0 356.0L624.3 356.1M593.1 323.0L593.5 320.9M569.4 339.3L570.0 338.3M611.6 362.7L612.1 362.0M617.8 340.7L619.0 340.7M599.4 334.3L599.9 333.6M588.9 304.7L589.9 304.9M643.9 320.6L645.2 320.3M588.9 348.3L589.9 348.0M589.9 340.6L591.3 339.9M620.2 366.4L620.8 365.3M656.6 330.1L657.8 330.2M641.7 345.7L642.5 344.7M589.1 328.0L589.4 327.7M662.1 357.1L661.9 356.5M606.4 367.2L606.8 366.5M594.7 335.8L596.7 336.5M568.3 306.8L569.3 305.7M582.4 307.8L583.0 308.0M645.4 360.9L646.4 359.2M575.8 323.6L576.9 322.9M611.3 333.2L611.7 333.1M579.1 308.3L579.8 307.0M594.4 329.4L595.6 328.9M582.8 310.1L583.4 308.2M618.2 357.1L620.0 356.9M651.5 361.8L652.3 360.9M603.7 360.7L605.5 361.8M631.5 339.9L633.1 339.6M645.5 323.6L646.0 323.3M590.6 331.4L591.3 329.5M626.2 369.1L627.1 369.0M585.3 361.0L585.6 360.3M660.0 346.7L661.4 345.0M642.1 309.0L643.2 308.8M614.2 315.1L614.5 314.7M649.7 345.7L650.3 344.6M563.6 365.5L563.9 364.5M591.3 310.8L592.5 310.8M656.1 348.7L657.2 346.8M633.1 318.0L633.8 317.4M639.6 334.2L640.3 334.1M603.5 323.8L604.4 324.4M654.9 372.6L656.2 371.1M579.3 356.0L579.8 355.1M649.8 332.8L650.8 332.0M630.1 359.5L630.8 358.7M640.9 318.3L642.4 317.9M598.8 311.1L600.4 311.1M612.9 322.1L614.6 321.4M593.5 310.6L594.5 310.4M619.0 341.5L620.7 340.6M616.1 330.1L616.5 329.6M632.5 361.6L633.7 360.8M644.3 354.2L645.4 353.4M656.8 370.7L657.5 370.4M576.1 329.2L577.2 328.0M645.9 350.7L646.3 350.5M567.0 338.9L567.4 338.4M634.6 366.8L635.9 366.5M635.0 355.0L635.3 354.5M614.8 328.4L615.4 326.6M649.4 352.5L650.2 351.2M609.8 340.2L611.1 338.8M575.3 320.4L577.0 319.1M625.3 319.8L625.7 318.9M582.9 326.8L583.5 326.7M611.1 352.9L611.1 350.8M582.1 349.3L583.4 349.3M624.0 331.8L625.0 331.0M636.1 324.3L636.0 323.3M620.4 337.4L622.5 337.6M622.1 320.9L622.4 320.4M624.9 344.8L625.5 343.9M611.2 335.0L613.2 334.7M568.1 328.9L568.9 327.8M643.9 347.7L644.2 347.4M645.0 350.2L645.5 350.1M638.9 318.8L639.4 318.6M631.0 327.6L632.5 326.1M575.2 345.2L576.5 346.1M641.3 335.3L642.2 334.2M598.9 326.5L600.2 325.3M598.9 339.7L600.0 338.9M649.9 319.7L650.3 319.1M636.7 338.0L637.7 337.3M590.6 331.7L589.8 330.3M626.6 306.3L626.9 305.0M638.6 330.9L639.1 330.8M624.5 346.5L625.1 346.1M630.8 342.5L632.1 340.7M607.0 335.6L608.0 334.9M616.2 319.6L616.4 319.1M587.0 348.6L588.4 348.1M595.3 372.8L595.9 372.3M631.6 329.3L631.6 328.4M641.0 349.7L643.1 350.1M625.8 303.3L627.3 303.4M607.6 327.9L609.7 327.4M577.5 346.9L578.9 345.8M596.2 314.9L596.6 315.6M633.9 318.8L635.8 318.3M661.9 314.2L663.5 313.6M594.3 359.0L595.1 358.9M640.6 347.1L641.2 347.1M586.1 349.9L587.8 350.0M576.2 314.8L576.5 314.4M579.1 348.2L579.4 347.4M622.6 371.9L623.2 371.5M596.5 352.1L598.4 351.8M643.8 338.6L645.3 338.2M608.1 338.9L610.3 339.2M619.2 349.9L619.9 348.4M619.7 321.8L620.1 321.9M578.2 366.2L579.4 364.7M613.1 331.1L614.1 330.4M656.7 344.6L657.9 345.2M628.2 340.7L629.0 339.8M578.9 327.7L579.2 327.3M579.0 355.8L578.8 355.3M622.1 341.2L623.3 340.6M637.7 352.0L639.4 351.4M652.2 340.0L653.5 340.7M634.1 326.9L634.7 325.3M605.9 360.7L606.8 359.9M631.3 342.2L631.9 342.0M628.9 342.2L629.9 341.3M640.4 348.1L641.5 348.0M644.8 322.0L646.6 321.7M574.8 313.6L576.5 312.7M634.2 336.9L634.3 335.5M643.9 335.3L646.0 334.9M605.9 368.7L607.0 367.2M599.7 323.9L600.4 322.5M636.9 361.0L637.5 361.6M646.5 314.3L646.6 313.6M652.2 317.5L653.9 316.3M623.2 346.2L623.6 345.1M652.6 366.9L654.3 365.9M627.2 305.2L627.6 304.9M569.4 330.9L569.9 330.1M615.3 326.2L616.0 325.4M621.4 330.7L622.8 330.2M594.2 314.7L596.0 314.1M575.8 302.5L576.0 302.1M602.4 322.0L602.4 320.0M573.7 355.7L574.1 355.5M617.2 343.5L618.0 342.9M566.4 325.9L567.8 325.8M642.5 325.4L643.4 325.2M651.4 332.9L652.3 332.3M645.2 350.7L645.3 350.0M593.1 301.0L594.2 300.4M651.1 364.7L652.2 363.6M583.3 331.8L583.7 331.5M615.5 321.5L616.0 320.2M608.6 370.3L609.5 368.8M578.2 353.5L579.9 352.2M611.6 346.6L611.9 345.6M603.5 365.5L604.3 365.5M600.3 341.7L602.2 341.0M608.0 330.2L608.1 329.0M642.1 330.2L642.9 329.1M647.5 361.9L648.7 360.8M619.8 356.8L621.7 356.3M586.3 308.9L587.3 308.4M616.2 354.1L616.6 352.1M640.4 350.8L641.2 350.9M593.0 358.7L593.6 357.8M631.1 326.5L631.7 325.0M576.8 331.4L578.1 329.8M646.5 358.3L647.0 357.8M658.8 343.1L660.3 342.5M615.4 332.8L616.2 332.5M618.0 368.8L619.3 368.1M644.8 341.2L645.4 340.5M599.9 372.7L600.2 372.1M608.0 332.7L608.5 331.9M604.3 345.8L605.7 345.3M657.4 342.5L658.4 341.2M616.0 302.5L617.2 301.3M658.9 330.6L660.1 331.1M608.0 332.8L608.0 331.1M609.0 353.3L609.7 352.1M635.3 346.5L636.7 345.6M590.0 349.8L590.6 348.9M631.0 363.0L632.0 364.2M592.7 344.0L593.2 343.1M598.7 355.2L598.6 354.7M627.8 345.0L629.8 344.6M572.3 312.7L571.6 311.0M633.1 326.7L633.5 324.6M652.5 304.3L653.6 304.4M587.3 309.8L586.3 307.9M658.7 322.9L659.0 321.8M657.7 335.1L659.7 335.2M621.6 331.6L622.1 330.1M579.5 351.9L581.2 350.8M585.5 347.9L586.6 346.9M616.8 363.2L617.1 362.9M569.8 357.0L569.7 356.5M643.7 359.1L644.5 358.5M617.7 337.5L618.1 336.1M627.8 374.1L629.6 373.1M573.1 337.7L574.3 337.2M590.6 313.0L591.1 311.4M626.4 351.7L627.8 352.0M612.0 307.6L612.8 307.0M597.6 341.5L599.2 340.9M618.1 350.2L619.0 350.3M644.5 363.7L645.4 362.2M617.5 323.7L618.0 323.5M625.2 332.7L625.5 332.9M656.2 351.7L655.5 350.7M619.8 313.9L621.2 312.7M567.2 342.3L565.9 341.8M643.0 347.4L643.9 346.9M577.0 317.8L578.1 318.0M589.7 371.2L590.0 370.4M587.3 314.2L587.3 312.5M657.7 336.9L658.2 336.5M603.3 361.6L604.4 361.5M646.7 357.6L646.4 355.7M627.2 326.6L627.5 326.1M643.7 315.4L644.5 314.7M589.1 303.0L591.2 302.6M608.1 341.4L609.7 341.2M639.9 320.5L640.9 319.0M657.3 349.1L657.5 348.7M609.9 322.7L611.9 322.9M624.7 303.9L625.9 302.3M582.7 356.6L583.5 356.6M647.7 320.6L648.0 319.9M605.9 351.2L606.8 351.7M585.4 315.2L586.2 315.0M626.0 355.1L626.2 354.8M634.3 356.6L635.3 354.9M657.6 345.7L659.5 345.0M605.8 360.2L606.9 360.7M631.0 310.1L631.3 309.1M627.5 347.6L627.1 347.3M620.6 314.1L621.7 313.1M591.7 326.5L592.6 326.4M571.0 364.0L571.5 363.7M587.0 317.2L587.0 316.7M640.4 322.7L641.5 323.3M638.4 347.7L639.1 347.0M610.3 326.0L611.0 325.7M573.8 311.0L574.3 310.3M591.0 351.9L592.1 351.4M577.0 336.6L578.5 336.1M659.4 353.8L660.7 352.1M646.4 331.7L646.6 330.3M607.8 325.6L608.7 323.6M591.8 343.3L592.4 342.8M632.6 341.0L633.4 339.9M600.8 327.1L601.2 327.0M606.8 343.9L607.2 344.2M662.1 314.6L663.1 313.9M584.9 346.7L585.9 346.0M631.5 367.5L631.8 366.7M660.3 372.5L662.1 373.3M598.1 331.3L598.6 330.9M648.6 328.4L649.3 327.9M640.7 338.4L641.2 337.6M596.0 350.5L597.8 349.8M610.2 347.3L611.0 347.5M617.2 339.8L617.5 339.3M603.0 350.0L603.7 349.2M632.7 316.7L632.3 314.6M628.5 372.2L629.0 372.0M622.4 373.5L623.5 372.5M578.3 326.1L580.3 325.4M588.2 321.8L589.9 321.6M599.8 316.5L599.9 314.4M640.1 347.7L640.9 348.2M641.5 335.1L642.3 334.7M574.5 315.5L575.0 314.7M577.6 326.3L577.6 325.7M609.3 363.4L609.9 362.8M636.3 342.2L636.7 341.7M608.9 317.0L609.5 317.4M614.3 340.1L615.4 339.2M642.3 321.9L643.1 321.5M591.3 367.9L591.8 367.4M581.4 345.2L582.0 343.6M637.4 328.7L639.5 328.7M618.8 363.2L619.6 362.4M659.8 320.3L661.2 320.0M613.5 350.5L613.9 350.1M628.9 365.5L629.6 364.3M635.0 327.4L635.4 326.5M607.7 335.5L608.8 334.7M591.3 335.1L592.1 334.9M652.7 314.3L652.7 312.9M566.8 323.2L567.5 321.5M582.9 332.4L583.8 332.3M624.3 320.7L624.5 318.7M651.9 344.8L652.8 343.4M614.0 365.6L614.8 367.5M650.4 350.9L651.1 350.3M610.8 303.8L611.1 302.0M606.1 311.4L607.1 311.0M662.1 339.9L663.4 338.4M628.2 336.7L629.4 335.5M584.4 349.8L584.2 348.0M580.4 341.0L580.9 341.1M634.9 308.8L635.6 307.6M588.3 319.8L589.4 319.1M661.9 362.6L662.5 362.2M581.7 324.1L583.2 323.1M635.0 352.6L635.5 352.1M642.6 333.5L643.7 332.9M621.4 345.6L621.5 344.9M640.9 358.9L641.3 358.5M574.6 335.0L575.2 334.7M662.0 353.0L662.4 352.7M570.1 357.6L571.8 357.0M605.8 331.4L606.3 330.4M607.0 364.2L607.5 362.7M645.5 330.3L645.7 329.1M652.3 305.2L654.0 305.9M631.3 357.5L631.6 356.7M660.2 329.1L659.5 327.8M608.7 341.3L608.7 340.6M655.3 345.6L655.6 344.9M578.6 365.5L579.5 364.0M606.4 305.1L607.9 304.6M574.1 364.6L574.8 364.3M660.4 346.6L660.8 345.3M652.8 320.2L653.2 320.1M637.0 349.7L636.9 349.0M643.2 317.6L644.4 317.0M655.0 300.9L655.9 301.1M577.2 334.8L578.8 335.2M611.5 340.4L612.2 340.1M576.7 366.9L577.5 366.4M608.2 323.7L609.4 323.8M643.6 320.4L644.1 319.3M594.1 360.8L595.1 360.5M597.5 308.8L599.0 308.8M617.8 363.0L619.5 361.8M620.1 338.9L620.2 338.2M648.6 307.6L650.2 307.9M637.5 320.8L636.5 319.1M579.9 370.5L580.1 369.9M629.3 352.8L630.8 351.5M612.7 357.5L614.1 356.7M635.0 359.7L636.1 358.7M625.1 358.1L626.1 357.0M638.5 320.4L639.0 320.1M649.2 311.7L649.4 311.1M652.9 341.0L652.7 340.1M650.3 362.6L650.3 362.2M586.8 351.6L588.4 350.6M589.4 340.7L591.2 340.7M570.1 357.1L571.6 357.3M635.7 326.1L636.4 325.3M565.8 328.3L566.1 327.9M587.2 350.7L587.7 350.0M637.9 321.8L638.8 321.9M642.4 320.6L642.9 319.8M566.9 355.7L568.0 354.1M656.6 342.3L657.2 340.9M657.2 374.2L658.1 372.8M605.3 351.4L606.3 350.6M581.0 348.7L581.9 348.3M613.5 351.6L614.4 351.4M573.0 338.3L573.5 338.1M594.6 326.6L594.9 326.1M569.3 350.6L570.3 349.6M568.1 368.7L570.1 369.0M657.2 325.5L656.9 324.9M572.7 356.5L574.5 356.3M628.4 365.9L629.4 365.4M649.2 310.6L649.3 309.8M598.2 321.8L597.8 321.6M583.7 327.4L585.2 327.5M594.7 335.9L595.1 334.8M657.5 307.4L658.5 306.6M645.9 358.9L646.2 357.3M610.7 332.9L612.5 332.7M599.6 334.2L600.6 332.6M602.7 350.7L603.1 350.0M611.9 329.9L611.9 329.5M605.6 366.7L605.9 365.7M604.7 365.5L606.3 365.7M576.9 349.2L578.1 348.3M626.8 340.7L628.1 341.1M648.0 361.6L648.3 361.3M608.2 334.5L610.0 334.2M579.7 334.2L580.6 333.8M617.5 348.4L618.6 347.7M635.1 343.4L636.4 342.3M649.5 331.4L649.0 329.8M578.3 321.2L576.7 320.0M592.8 332.6L592.8 331.3M634.2 363.5L634.3 363.0M574.6 318.6L575.4 316.7M616.7 333.9L618.9 334.0M591.2 334.7L592.6 334.8M645.1 334.6L646.3 333.9M598.6 350.7L597.8 348.7M648.7 356.3L648.9 355.9M591.0 353.6L592.7 352.4M589.2 319.6L589.5 318.8M585.0 359.2L586.2 358.2M602.8 350.6L603.4 349.8M618.2 304.5L618.6 303.1M632.0 327.6L633.2 326.9M578.9 337.5L579.2 337.0M569.6 371.7L570.3 371.0M619.2 309.0L620.6 308.2M646.2 370.3L646.9 368.4M603.8 334.0L604.5 333.6M637.3 346.7L637.7 344.7M585.7 370.2L586.1 369.3M610.1 343.9L610.8 343.0M592.6 339.0L593.6 337.9M617.3 323.9L617.8 322.0M610.3 328.1L611.5 327.9M583.2 316.0L584.2 315.1M635.4 316.5L636.3 317.1M628.4 338.8L628.6 338.4M596.6 335.0L597.4 335.4M600.4 371.9L601.8 370.5M619.6 322.2L621.3 321.0M616.2 316.9L617.1 315.4M590.3 310.0L591.5 308.8M644.5 332.1L645.4 330.9M603.5 318.1L604.0 317.9M594.9 343.7L594.9 342.2M640.3 307.9L642.2 307.5M630.1 342.4L630.9 340.8M602.2 341.6L602.1 340.4M646.1 320.8L647.5 319.9M639.5 349.9L641.3 350.7M642.9 333.7L644.1 333.2M585.2 310.5L585.7 310.0M650.2 318.9L650.2 317.5M654.7 324.3L655.5 323.0M580.2 316.7L579.8 315.7M594.4 361.6L594.8 360.8M621.1 344.9L620.9 344.2M583.9 309.5L584.3 307.6M601.0 340.4L601.5 339.3M630.5 342.8L631.3 343.0M630.1 318.5L631.3 318.7M583.9 353.6L585.6 353.0M605.9 374.2L606.4 372.9M590.7 319.9L591.2 319.1M598.0 374.0L599.6 373.2M616.1 364.3L617.1 362.4M581.3 322.1L582.4 320.7M590.3 373.1L590.1 372.1M622.1 333.8L623.1 333.7M588.5 342.4L589.6 343.6M601.6 309.1L603.4 308.8M650.2 342.4L651.7 343.0M645.3 306.1L645.8 305.4M590.4 342.4L591.1 340.4M608.5 330.9L609.7 329.2M632.4 338.3L633.4 338.4M595.0 353.4L595.8 352.8M587.5 356.0L588.1 355.2M573.9 329.9L574.1 329.2M593.0 370.8L593.4 370.6M578.5 312.4L580.3 312.0M603.0 325.8L604.5 325.1M641.2 332.6L641.9 331.3M601.2 369.4L600.4 367.6M631.3 346.7L632.6 346.1M639.5 362.6L639.7 362.2M652.6 324.4L653.0 323.8M646.6 349.2L646.4 347.4M642.6 338.1L643.9 336.8M647.2 306.0L647.8 306.4M585.9 328.4L587.9 327.6M609.8 351.3L611.4 349.8M610.5 347.5L610.1 346.5M649.4 361.8L650.8 361.6M655.3 366.2L655.3 365.4M626.1 328.7L627.0 328.0M652.6 319.7L653.1 319.6M632.3 329.5L633.1 328.4M598.5 323.8L600.3 324.1M632.9 323.7L634.0 325.4M567.8 311.9L569.6 311.9M572.3 347.3L572.7 345.4M580.9 306.4L580.2 304.5M647.8 349.2L649.3 348.4M660.7 334.3L661.1 334.2M625.1 325.0L625.8 324.6M566.6 327.5L566.8 326.3" stroke="#3a1e9a" stroke-width="1.7" stroke-linecap="round" fill="none" stroke-opacity="0.95"/>
<line x1="788.1500000000001" y1="307.5" x2="788.1500000000001" y2="309.6" stroke="#ff8a30" stroke-width="1.25"/>
<line x1="782.1500000000001" y1="307.5" x2="794.1500000000001" y2="307.5" stroke="#ff8a30" stroke-width="1.25"/>
<rect x="774.10" y="308.60" width="28.10" height="44.50" fill="#ff6600"/>
<line x1="788.1500000000001" y1="353.1" x2="788.1500000000001" y2="356.3" stroke="#0a0a0a" stroke-width="1.3"/>
<line x1="828.0999999999999" y1="265.7" x2="828.0999999999999" y2="270.4" stroke="#3fd24a" stroke-width="1.25"/>
<line x1="821.8" y1="265.7" x2="834.3999999999999" y2="265.7" stroke="#3fd24a" stroke-width="1.25"/>
<rect x="814.30" y="269.40" width="27.60" height="83.70" fill="#0a800e"/>
<line x1="828.0999999999999" y1="353.1" x2="828.0999999999999" y2="356.3" stroke="#0a0a0a" stroke-width="1.3"/>
<line x1="761.1" y1="248.0" x2="761.1" y2="354.0" stroke="#0a0a0a" stroke-width="1.9"/>
<line x1="760.2" y1="353.1" x2="855" y2="353.1" stroke="#0a0a0a" stroke-width="1.9"/>
<line x1="757.7" y1="248.8" x2="761.1" y2="248.8" stroke="#0a0a0a" stroke-width="1.6"/>
<text x="756.6" y="253.10000000000002" font-size="12" text-anchor="end" fill="#0a0a0a">200</text>
<line x1="757.7" y1="274.7" x2="761.1" y2="274.7" stroke="#0a0a0a" stroke-width="1.6"/>
<text x="756.6" y="279.0" font-size="12" text-anchor="end" fill="#0a0a0a">150</text>
<line x1="757.7" y1="300.8" x2="761.1" y2="300.8" stroke="#0a0a0a" stroke-width="1.6"/>
<text x="756.6" y="305.1" font-size="12" text-anchor="end" fill="#0a0a0a">100</text>
<line x1="757.7" y1="327.2" x2="761.1" y2="327.2" stroke="#0a0a0a" stroke-width="1.6"/>
<text x="756.6" y="331.5" font-size="12" text-anchor="end" fill="#0a0a0a">50</text>
<line x1="757.7" y1="353.1" x2="761.1" y2="353.1" stroke="#0a0a0a" stroke-width="1.6"/>
<text x="756.6" y="357.40000000000003" font-size="12" text-anchor="end" fill="#0a0a0a">0</text>
<polygon points="828.00,257.40 828.94,259.91 831.61,260.03 829.52,261.69 830.23,264.27 828.00,262.80 825.77,264.27 826.48,261.69 824.39,260.03 827.06,259.91" fill="#0a0a0a"/>
<text x="727.6" y="298" font-size="12.3" text-anchor="middle" transform="rotate(-90 727.6 298)" textLength="128.3" lengthAdjust="spacingAndGlyphs" fill="#0a0a0a">Invasive cell number</text>
<text x="793" y="366" font-size="13.1" text-anchor="end" transform="rotate(-45 793 366)" fill="#0a0a0a">si-FGD5-AS1</text>
<text x="834" y="366" font-size="13.1" text-anchor="end" transform="rotate(-45 834 366)" fill="#0a0a0a">si-FGD5-AS1+AMO-miR-153-3p</text>
</svg>
</body></html>
